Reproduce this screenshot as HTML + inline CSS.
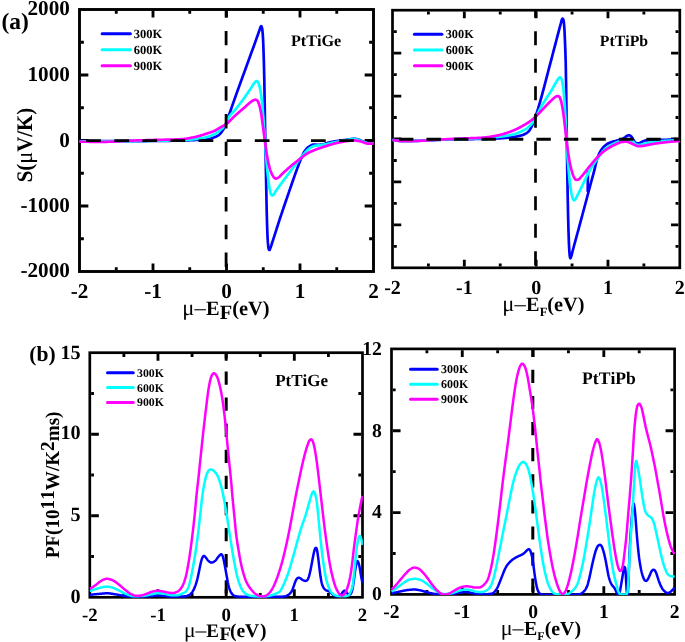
<!DOCTYPE html>
<html lang="en"><head><meta charset="utf-8"><title>Seebeck coefficient and power factor</title>
<style>html,body{margin:0;padding:0;background:#fff}svg{display:block;will-change:transform}text{font-kerning:none;text-rendering:geometricPrecision}</style></head>
<body>
<svg width="685" height="642" viewBox="0 0 685 642" font-family='"Liberation Serif","DejaVu Serif",serif' fill="#000">
<rect width="685" height="642" fill="#fff"/>
<g>
<clipPath id="ca1"><rect x="79.1" y="9.5" width="294.8" height="262.6"/></clipPath>
<path d="M153 270.05 v-6.6 M153 10.95 v6.6 M226.5 270.05 v-6.6 M226.5 10.95 v6.6 M300 270.05 v-6.6 M300 10.95 v6.6 M116.25 270.05 v-2.9 M116.25 10.95 v2.9 M189.75 270.05 v-2.9 M189.75 10.95 v2.9 M263.25 270.05 v-2.9 M263.25 10.95 v2.9 M336.75 270.05 v-2.9 M336.75 10.95 v2.9 M80.95 75 h7.4 M372.05 75 h-7.4 M80.95 140.5 h7.4 M372.05 140.5 h-7.4 M80.95 206 h7.4 M372.05 206 h-7.4 M80.95 42.25 h2.9 M372.05 42.25 h-2.9 M80.95 107.75 h2.9 M372.05 107.75 h-2.9 M80.95 173.25 h2.9 M372.05 173.25 h-2.9 M80.95 238.75 h2.9 M372.05 238.75 h-2.9" stroke="#000" stroke-width="2.85" fill="none"/>
<rect x="79.5" y="9.5" width="294" height="262" fill="none" stroke="#000" stroke-width="2.9"/>
<g clip-path="url(#ca1)" fill="none" stroke-linejoin="round" stroke-linecap="butt" stroke-width="2.7">
<path d="M79.5 141.2 L79.9 141.2 L80.3 141.2 L80.7 141.2 L81.1 141.2 L81.5 141.2 L81.9 141.2 L82.3 141.2 L82.7 141.2 L83.1 141.2 L83.5 141.2 L83.9 141.2 L84.3 141.2 L84.7 141.2 L85.1 141.2 L85.5 141.2 L85.9 141.2 L86.3 141.2 L86.7 141.2 L87.1 141.2 L87.5 141.2 L87.9 141.2 L88.3 141.2 L88.7 141.2 L89.1 141.2 L89.5 141.2 L89.9 141.2 L90.3 141.2 L90.7 141.2 L91.1 141.2 L91.5 141.2 L91.9 141.2 L92.3 141.2 L92.7 141.2 L93.1 141.2 L93.5 141.2 L93.9 141.2 L94.3 141.2 L94.7 141.2 L95.1 141.2 L95.5 141.2 L95.9 141.2 L96.3 141.2 L96.7 141.2 L97.1 141.2 L97.5 141.2 L97.9 141.2 L98.3 141.2 L98.7 141.2 L99.1 141.2 L99.5 141.2 L99.9 141.2 L100.3 141.2 L100.7 141.2 L101.1 141.2 L101.5 141.2 L101.9 141.2 L102.3 141.2 L102.7 141.2 L103.1 141.2 L103.5 141.2 L103.9 141.2 L104.3 141.2 L104.7 141.2 L105.1 141.2 L105.5 141.2 L105.9 141.2 L106.3 141.2 L106.7 141.2 L107.1 141.2 L107.5 141.2 L107.9 141.2 L108.3 141.2 L108.7 141.2 L109.1 141.2 L109.5 141.2 L109.9 141.2 L110.3 141.2 L110.7 141.2 L111.1 141.2 L111.5 141.2 L111.9 141.2 L112.3 141.2 L112.7 141.2 L113.1 141.2 L113.5 141.2 L113.9 141.2 L114.3 141.2 L114.7 141.2 L115.1 141.2 L115.5 141.2 L115.9 141.2 L116.3 141.2 L116.7 141.2 L117.1 141.2 L117.5 141.2 L117.9 141.2 L118.3 141.2 L118.7 141.2 L119.1 141.2 L119.5 141.2 L119.9 141.2 L120.3 141.2 L120.7 141.2 L121.1 141.2 L121.5 141.2 L121.9 141.2 L122.3 141.2 L122.7 141.2 L123.1 141.2 L123.5 141.2 L123.9 141.19 L124.3 141.19 L124.7 141.19 L125.1 141.19 L125.5 141.19 L125.9 141.19 L126.3 141.19 L126.7 141.18 L127.1 141.18 L127.5 141.18 L127.9 141.18 L128.3 141.18 L128.7 141.18 L129.1 141.17 L129.5 141.17 L129.9 141.17 L130.3 141.17 L130.7 141.16 L131.1 141.16 L131.5 141.16 L131.9 141.16 L132.3 141.15 L132.7 141.15 L133.1 141.15 L133.5 141.14 L133.9 141.14 L134.3 141.14 L134.7 141.14 L135.1 141.13 L135.5 141.13 L135.9 141.13 L136.3 141.12 L136.7 141.12 L137.1 141.12 L137.5 141.11 L137.9 141.11 L138.3 141.11 L138.7 141.1 L139.1 141.1 L139.5 141.1 L139.9 141.09 L140.3 141.09 L140.7 141.08 L141.1 141.08 L141.5 141.08 L141.9 141.07 L142.3 141.07 L142.7 141.07 L143.1 141.06 L143.5 141.06 L143.9 141.06 L144.3 141.05 L144.7 141.05 L145.1 141.04 L145.5 141.04 L145.9 141.04 L146.3 141.03 L146.7 141.03 L147.1 141.03 L147.5 141.02 L147.9 141.02 L148.3 141.02 L148.7 141.01 L149.1 141.01 L149.5 141 L149.9 141 L150.3 141 L150.7 140.99 L151.1 140.99 L151.5 140.99 L151.9 140.98 L152.3 140.98 L152.7 140.98 L153.1 140.97 L153.5 140.97 L153.9 140.97 L154.3 140.96 L154.7 140.96 L155.1 140.95 L155.5 140.95 L155.9 140.95 L156.3 140.94 L156.7 140.94 L157.1 140.94 L157.5 140.93 L157.9 140.93 L158.3 140.92 L158.7 140.92 L159.1 140.92 L159.5 140.91 L159.9 140.91 L160.3 140.9 L160.7 140.9 L161.1 140.9 L161.5 140.89 L161.9 140.89 L162.3 140.88 L162.7 140.88 L163.1 140.87 L163.5 140.87 L163.9 140.87 L164.3 140.86 L164.7 140.86 L165.1 140.85 L165.5 140.85 L165.9 140.84 L166.3 140.84 L166.7 140.83 L167.1 140.83 L167.5 140.82 L167.9 140.82 L168.3 140.81 L168.7 140.81 L169.1 140.8 L169.5 140.8 L169.9 140.79 L170.3 140.79 L170.7 140.78 L171.1 140.77 L171.5 140.77 L171.9 140.76 L172.3 140.76 L172.7 140.75 L173.1 140.74 L173.5 140.74 L173.9 140.73 L174.3 140.72 L174.7 140.72 L175.1 140.71 L175.5 140.7 L175.9 140.7 L176.3 140.69 L176.7 140.68 L177.1 140.68 L177.5 140.67 L177.9 140.66 L178.3 140.65 L178.7 140.65 L179.1 140.64 L179.5 140.63 L179.9 140.62 L180.3 140.61 L180.7 140.61 L181.1 140.6 L181.5 140.59 L181.9 140.58 L182.3 140.57 L182.7 140.56 L183.1 140.55 L183.5 140.53 L183.9 140.52 L184.3 140.51 L184.7 140.49 L185.1 140.48 L185.5 140.47 L185.9 140.45 L186.3 140.43 L186.7 140.42 L187.1 140.4 L187.5 140.38 L187.9 140.37 L188.3 140.35 L188.7 140.33 L189.1 140.31 L189.5 140.29 L189.9 140.27 L190.3 140.25 L190.7 140.23 L191.1 140.21 L191.5 140.19 L191.9 140.17 L192.3 140.15 L192.7 140.13 L193.1 140.11 L193.5 140.09 L193.9 140.07 L194.3 140.05 L194.7 140.03 L195.1 140.01 L195.5 139.99 L195.9 139.96 L196.3 139.94 L196.7 139.92 L197.1 139.9 L197.5 139.88 L197.9 139.86 L198.3 139.84 L198.7 139.82 L199.1 139.79 L199.5 139.77 L199.9 139.76 L200.3 139.74 L200.7 139.72 L201.1 139.7 L201.5 139.68 L201.9 139.66 L202.3 139.65 L202.7 139.63 L203.1 139.61 L203.5 139.59 L203.9 139.56 L204.3 139.54 L204.7 139.52 L205.1 139.49 L205.5 139.46 L205.9 139.43 L206.3 139.4 L206.7 139.37 L207.1 139.33 L207.5 139.29 L207.9 139.24 L208.3 139.17 L208.7 139.1 L209.1 139.01 L209.5 138.91 L209.9 138.8 L210.3 138.68 L210.7 138.56 L211.1 138.43 L211.5 138.3 L211.9 138.16 L212.3 138.02 L212.7 137.87 L213.1 137.73 L213.5 137.58 L213.9 137.44 L214.3 137.29 L214.7 137.15 L215.1 137 L215.5 136.84 L215.9 136.67 L216.3 136.5 L216.7 136.31 L217.1 136.11 L217.5 135.89 L217.9 135.66 L218.3 135.4 L218.7 135.11 L219.1 134.77 L219.5 134.41 L219.9 134.01 L220.3 133.59 L220.7 133.14 L221.1 132.68 L221.5 132.17 L221.9 131.62 L222.3 131.02 L222.7 130.38 L223.1 129.7 L223.5 129 L223.9 128.26 L224.3 127.46 L224.7 126.61 L225.1 125.73 L225.5 124.8 L225.9 123.84 L226.3 122.85 L226.7 121.78 L227.1 120.66 L227.5 119.5 L227.9 118.33 L228.3 117.16 L228.7 116 L229.1 114.85 L229.5 113.7 L229.9 112.53 L230.3 111.36 L230.7 110.19 L231.1 109.02 L231.5 107.85 L231.9 106.68 L232.3 105.52 L232.7 104.37 L233.1 103.23 L233.5 102.09 L233.9 100.96 L234.3 99.83 L234.7 98.71 L235.1 97.59 L235.5 96.47 L235.9 95.35 L236.3 94.24 L236.7 93.13 L237.1 92.02 L237.5 90.91 L237.9 89.8 L238.3 88.7 L238.7 87.59 L239.1 86.49 L239.5 85.38 L239.9 84.28 L240.3 83.17 L240.7 82.07 L241.1 80.97 L241.5 79.87 L241.9 78.77 L242.3 77.68 L242.7 76.58 L243.1 75.49 L243.5 74.4 L243.9 73.3 L244.3 72.21 L244.7 71.12 L245.1 70.02 L245.5 68.92 L245.9 67.83 L246.3 66.72 L246.7 65.62 L247.1 64.52 L247.5 63.41 L247.9 62.3 L248.3 61.2 L248.7 60.09 L249.1 58.98 L249.5 57.88 L249.9 56.78 L250.3 55.68 L250.7 54.58 L251.1 53.49 L251.5 52.39 L251.9 51.3 L252.3 50.21 L252.7 49.12 L253.1 48.03 L253.5 46.94 L253.9 45.84 L254.3 44.74 L254.7 43.63 L255.1 42.52 L255.5 41.41 L255.9 40.29 L256.3 39.16 L256.7 38.04 L257.1 36.91 L257.5 35.78 L257.9 34.65 L258.3 33.51 L258.7 32.37 L259.1 31.23 L259.5 30.09 L259.9 28.88 L260.3 27.67 L260.7 26.78 L261.1 26.14 L261.5 26.4 L261.9 27.47 L262.3 29.48 L262.7 33.45 L263.1 39.58 L263.5 50 L263.9 62.86 L264.3 79.87 L264.7 103.92 L265.1 128.33 L265.5 150.49 L265.9 170.06 L266.3 190.95 L266.7 211.03 L267.1 225.37 L267.5 236.12 L267.9 242.64 L268.3 246.92 L268.7 248.8 L269.1 249.93 L269.5 249.98 L269.9 249.25 L270.3 248.3 L270.7 247.29 L271.1 246.09 L271.5 244.79 L271.9 243.51 L272.3 242.28 L272.7 241.06 L273.1 239.82 L273.5 238.58 L273.9 237.33 L274.3 236.08 L274.7 234.82 L275.1 233.57 L275.5 232.31 L275.9 231.05 L276.3 229.79 L276.7 228.54 L277.1 227.28 L277.5 226.04 L277.9 224.79 L278.3 223.56 L278.7 222.33 L279.1 221.11 L279.5 219.9 L279.9 218.69 L280.3 217.49 L280.7 216.29 L281.1 215.09 L281.5 213.9 L281.9 212.71 L282.3 211.52 L282.7 210.34 L283.1 209.16 L283.5 207.98 L283.9 206.81 L284.3 205.63 L284.7 204.46 L285.1 203.29 L285.5 202.12 L285.9 200.96 L286.3 199.79 L286.7 198.63 L287.1 197.47 L287.5 196.31 L287.9 195.15 L288.3 193.99 L288.7 192.83 L289.1 191.67 L289.5 190.51 L289.9 189.35 L290.3 188.18 L290.7 187.02 L291.1 185.85 L291.5 184.69 L291.9 183.52 L292.3 182.36 L292.7 181.2 L293.1 180.04 L293.5 178.89 L293.9 177.74 L294.3 176.61 L294.7 175.47 L295.1 174.35 L295.5 173.24 L295.9 172.13 L296.3 171.04 L296.7 169.96 L297.1 168.88 L297.5 167.8 L297.9 166.73 L298.3 165.66 L298.7 164.6 L299.1 163.56 L299.5 162.53 L299.9 161.52 L300.3 160.53 L300.7 159.57 L301.1 158.63 L301.5 157.71 L301.9 156.78 L302.3 155.85 L302.7 154.94 L303.1 154.06 L303.5 153.23 L303.9 152.46 L304.3 151.76 L304.7 151.16 L305.1 150.59 L305.5 150.05 L305.9 149.53 L306.3 149.04 L306.7 148.58 L307.1 148.15 L307.5 147.75 L307.9 147.39 L308.3 147.08 L308.7 146.8 L309.1 146.54 L309.5 146.29 L309.9 146.04 L310.3 145.8 L310.7 145.57 L311.1 145.35 L311.5 145.16 L311.9 144.99 L312.3 144.84 L312.7 144.73 L313.1 144.65 L313.5 144.61 L313.9 144.6 L314.3 144.61 L314.7 144.63 L315.1 144.65 L315.5 144.68 L315.9 144.71 L316.3 144.74 L316.7 144.76 L317.1 144.78 L317.5 144.8 L317.9 144.8 L318.3 144.8 L318.7 144.79 L319.1 144.77 L319.5 144.76 L319.9 144.74 L320.3 144.71 L320.7 144.68 L321.1 144.66 L321.5 144.62 L321.9 144.59 L322.3 144.54 L322.7 144.47 L323.1 144.38 L323.5 144.27 L323.9 144.15 L324.3 144.02 L324.7 143.88 L325.1 143.73 L325.5 143.59 L325.9 143.44 L326.3 143.29 L326.7 143.16 L327.1 143.03 L327.5 142.91 L327.9 142.8 L328.3 142.7 L328.7 142.61 L329.1 142.51 L329.5 142.42 L329.9 142.33 L330.3 142.24 L330.7 142.15 L331.1 142.07 L331.5 141.98 L331.9 141.9 L332.3 141.82 L332.7 141.74 L333.1 141.67 L333.5 141.59 L333.9 141.52 L334.3 141.45 L334.7 141.38 L335.1 141.32 L335.5 141.25 L335.9 141.19 L336.3 141.13 L336.7 141.07 L337.1 141.02 L337.5 140.96 L337.9 140.9 L338.3 140.85 L338.7 140.8 L339.1 140.74 L339.5 140.69 L339.9 140.64 L340.3 140.59 L340.7 140.54 L341.1 140.49 L341.5 140.44 L341.9 140.39 L342.3 140.34 L342.7 140.29 L343.1 140.24 L343.5 140.19 L343.9 140.14 L344.3 140.09 L344.7 140.04 L345.1 139.99 L345.5 139.93 L345.9 139.87 L346.3 139.81 L346.7 139.75 L347.1 139.69 L347.5 139.62 L347.9 139.55 L348.3 139.49 L348.7 139.42 L349.1 139.36 L349.5 139.29 L349.9 139.23 L350.3 139.17 L350.7 139.11 L351.1 139.06 L351.5 139.01 L351.9 138.96 L352.3 138.92 L352.7 138.88 L353.1 138.85 L353.5 138.83 L353.9 138.81 L354.3 138.8 L354.7 138.8 L355.1 138.82 L355.5 138.87 L355.9 138.93 L356.3 139.02 L356.7 139.12 L357.1 139.23 L357.5 139.34 L357.9 139.47 L358.3 139.59 L358.7 139.71 L359.1 139.83 L359.5 139.96 L359.9 140.11 L360.3 140.27 L360.7 140.45 L361.1 140.63 L361.5 140.81 L361.9 141 L362.3 141.18 L362.7 141.36 L363.1 141.53 L363.5 141.69 L363.9 141.83 L364.3 141.95 L364.7 142.05 L365.1 142.14 L365.5 142.24 L365.9 142.32 L366.3 142.41 L366.7 142.49 L367.1 142.56 L367.5 142.63 L367.9 142.68 L368.3 142.73 L368.7 142.78 L369.1 142.81 L369.5 142.83 L369.9 142.86 L370.3 142.89 L370.7 142.91 L371.1 142.93 L371.5 142.95 L371.9 142.97 L372.3 142.98 L372.7 142.99 L373.1 143 L373.5 143" stroke="#0000ff"/>
<path d="M79.5 141.3 L79.9 141.3 L80.3 141.3 L80.7 141.3 L81.1 141.3 L81.5 141.3 L81.9 141.3 L82.3 141.3 L82.7 141.3 L83.1 141.3 L83.5 141.3 L83.9 141.3 L84.3 141.3 L84.7 141.3 L85.1 141.3 L85.5 141.3 L85.9 141.3 L86.3 141.3 L86.7 141.3 L87.1 141.3 L87.5 141.3 L87.9 141.29 L88.3 141.29 L88.7 141.29 L89.1 141.29 L89.5 141.29 L89.9 141.29 L90.3 141.29 L90.7 141.29 L91.1 141.29 L91.5 141.29 L91.9 141.29 L92.3 141.29 L92.7 141.29 L93.1 141.29 L93.5 141.29 L93.9 141.29 L94.3 141.28 L94.7 141.28 L95.1 141.28 L95.5 141.28 L95.9 141.28 L96.3 141.28 L96.7 141.28 L97.1 141.28 L97.5 141.28 L97.9 141.28 L98.3 141.28 L98.7 141.27 L99.1 141.27 L99.5 141.27 L99.9 141.27 L100.3 141.27 L100.7 141.27 L101.1 141.27 L101.5 141.27 L101.9 141.27 L102.3 141.26 L102.7 141.26 L103.1 141.26 L103.5 141.26 L103.9 141.26 L104.3 141.26 L104.7 141.26 L105.1 141.26 L105.5 141.26 L105.9 141.25 L106.3 141.25 L106.7 141.25 L107.1 141.25 L107.5 141.25 L107.9 141.25 L108.3 141.25 L108.7 141.24 L109.1 141.24 L109.5 141.24 L109.9 141.24 L110.3 141.24 L110.7 141.24 L111.1 141.24 L111.5 141.23 L111.9 141.23 L112.3 141.23 L112.7 141.23 L113.1 141.23 L113.5 141.23 L113.9 141.23 L114.3 141.22 L114.7 141.22 L115.1 141.22 L115.5 141.22 L115.9 141.22 L116.3 141.22 L116.7 141.21 L117.1 141.21 L117.5 141.21 L117.9 141.21 L118.3 141.21 L118.7 141.21 L119.1 141.2 L119.5 141.2 L119.9 141.2 L120.3 141.2 L120.7 141.2 L121.1 141.19 L121.5 141.19 L121.9 141.19 L122.3 141.19 L122.7 141.18 L123.1 141.18 L123.5 141.18 L123.9 141.18 L124.3 141.17 L124.7 141.17 L125.1 141.17 L125.5 141.16 L125.9 141.16 L126.3 141.15 L126.7 141.15 L127.1 141.15 L127.5 141.14 L127.9 141.14 L128.3 141.13 L128.7 141.13 L129.1 141.12 L129.5 141.12 L129.9 141.11 L130.3 141.11 L130.7 141.1 L131.1 141.1 L131.5 141.09 L131.9 141.09 L132.3 141.08 L132.7 141.08 L133.1 141.07 L133.5 141.06 L133.9 141.06 L134.3 141.05 L134.7 141.05 L135.1 141.04 L135.5 141.04 L135.9 141.03 L136.3 141.02 L136.7 141.02 L137.1 141.01 L137.5 141 L137.9 141 L138.3 140.99 L138.7 140.99 L139.1 140.98 L139.5 140.97 L139.9 140.97 L140.3 140.96 L140.7 140.95 L141.1 140.95 L141.5 140.94 L141.9 140.93 L142.3 140.93 L142.7 140.92 L143.1 140.91 L143.5 140.91 L143.9 140.9 L144.3 140.89 L144.7 140.89 L145.1 140.88 L145.5 140.87 L145.9 140.87 L146.3 140.86 L146.7 140.85 L147.1 140.85 L147.5 140.84 L147.9 140.83 L148.3 140.83 L148.7 140.82 L149.1 140.81 L149.5 140.81 L149.9 140.8 L150.3 140.8 L150.7 140.79 L151.1 140.78 L151.5 140.78 L151.9 140.77 L152.3 140.76 L152.7 140.76 L153.1 140.75 L153.5 140.75 L153.9 140.74 L154.3 140.74 L154.7 140.73 L155.1 140.72 L155.5 140.72 L155.9 140.71 L156.3 140.71 L156.7 140.7 L157.1 140.7 L157.5 140.69 L157.9 140.68 L158.3 140.68 L158.7 140.67 L159.1 140.67 L159.5 140.66 L159.9 140.66 L160.3 140.65 L160.7 140.64 L161.1 140.64 L161.5 140.63 L161.9 140.63 L162.3 140.62 L162.7 140.61 L163.1 140.61 L163.5 140.6 L163.9 140.6 L164.3 140.59 L164.7 140.58 L165.1 140.58 L165.5 140.57 L165.9 140.56 L166.3 140.56 L166.7 140.55 L167.1 140.54 L167.5 140.53 L167.9 140.53 L168.3 140.52 L168.7 140.51 L169.1 140.51 L169.5 140.5 L169.9 140.49 L170.3 140.48 L170.7 140.47 L171.1 140.47 L171.5 140.46 L171.9 140.45 L172.3 140.44 L172.7 140.43 L173.1 140.42 L173.5 140.41 L173.9 140.4 L174.3 140.39 L174.7 140.38 L175.1 140.37 L175.5 140.36 L175.9 140.35 L176.3 140.34 L176.7 140.33 L177.1 140.32 L177.5 140.31 L177.9 140.3 L178.3 140.29 L178.7 140.27 L179.1 140.26 L179.5 140.25 L179.9 140.24 L180.3 140.22 L180.7 140.21 L181.1 140.2 L181.5 140.18 L181.9 140.17 L182.3 140.15 L182.7 140.13 L183.1 140.11 L183.5 140.09 L183.9 140.07 L184.3 140.05 L184.7 140.02 L185.1 140 L185.5 139.97 L185.9 139.95 L186.3 139.92 L186.7 139.89 L187.1 139.86 L187.5 139.83 L187.9 139.8 L188.3 139.76 L188.7 139.73 L189.1 139.7 L189.5 139.66 L189.9 139.62 L190.3 139.59 L190.7 139.55 L191.1 139.51 L191.5 139.47 L191.9 139.43 L192.3 139.39 L192.7 139.35 L193.1 139.3 L193.5 139.26 L193.9 139.22 L194.3 139.17 L194.7 139.13 L195.1 139.08 L195.5 139.03 L195.9 138.99 L196.3 138.94 L196.7 138.89 L197.1 138.84 L197.5 138.79 L197.9 138.74 L198.3 138.69 L198.7 138.64 L199.1 138.59 L199.5 138.53 L199.9 138.48 L200.3 138.42 L200.7 138.35 L201.1 138.29 L201.5 138.22 L201.9 138.14 L202.3 138.07 L202.7 137.99 L203.1 137.91 L203.5 137.83 L203.9 137.74 L204.3 137.66 L204.7 137.57 L205.1 137.47 L205.5 137.38 L205.9 137.28 L206.3 137.18 L206.7 137.08 L207.1 136.97 L207.5 136.87 L207.9 136.75 L208.3 136.63 L208.7 136.51 L209.1 136.38 L209.5 136.25 L209.9 136.11 L210.3 135.97 L210.7 135.82 L211.1 135.67 L211.5 135.51 L211.9 135.35 L212.3 135.18 L212.7 135.01 L213.1 134.83 L213.5 134.64 L213.9 134.45 L214.3 134.25 L214.7 134.04 L215.1 133.81 L215.5 133.57 L215.9 133.32 L216.3 133.05 L216.7 132.78 L217.1 132.5 L217.5 132.2 L217.9 131.9 L218.3 131.59 L218.7 131.27 L219.1 130.95 L219.5 130.62 L219.9 130.28 L220.3 129.95 L220.7 129.62 L221.1 129.3 L221.5 128.98 L221.9 128.65 L222.3 128.31 L222.7 127.96 L223.1 127.58 L223.5 127.18 L223.9 126.75 L224.3 126.29 L224.7 125.78 L225.1 125.23 L225.5 124.63 L225.9 123.97 L226.3 123.07 L226.7 121.71 L227.1 120.39 L227.5 119.51 L227.9 118.76 L228.3 118.07 L228.7 117.42 L229.1 116.8 L229.5 116.23 L229.9 115.68 L230.3 115.17 L230.7 114.68 L231.1 114.21 L231.5 113.76 L231.9 113.33 L232.3 112.9 L232.7 112.48 L233.1 112.07 L233.5 111.65 L233.9 111.23 L234.3 110.8 L234.7 110.36 L235.1 109.9 L235.5 109.43 L235.9 108.93 L236.3 108.41 L236.7 107.89 L237.1 107.38 L237.5 106.86 L237.9 106.35 L238.3 105.83 L238.7 105.32 L239.1 104.8 L239.5 104.28 L239.9 103.76 L240.3 103.24 L240.7 102.72 L241.1 102.2 L241.5 101.67 L241.9 101.14 L242.3 100.61 L242.7 100.08 L243.1 99.54 L243.5 99 L243.9 98.45 L244.3 97.9 L244.7 97.34 L245.1 96.78 L245.5 96.21 L245.9 95.63 L246.3 95.04 L246.7 94.45 L247.1 93.86 L247.5 93.26 L247.9 92.65 L248.3 92.05 L248.7 91.45 L249.1 90.84 L249.5 90.24 L249.9 89.64 L250.3 89.04 L250.7 88.44 L251.1 87.85 L251.5 87.24 L251.9 86.61 L252.3 85.96 L252.7 85.32 L253.1 84.7 L253.5 84.1 L253.9 83.54 L254.3 83.04 L254.7 82.6 L255.1 82.18 L255.5 81.75 L255.9 81.37 L256.3 81.1 L256.7 81 L257.1 81.16 L257.5 81.56 L257.9 82.13 L258.3 82.77 L258.7 83.71 L259.1 84.97 L259.5 86.43 L259.9 88.02 L260.3 89.9 L260.7 92.11 L261.1 94.69 L261.5 97.94 L261.9 101.72 L262.3 105.7 L262.7 109.94 L263.1 114.55 L263.5 119.62 L263.9 125.32 L264.3 130.97 L264.7 136.38 L265.1 141.93 L265.5 147.88 L265.9 153.67 L266.3 158.8 L266.7 163.55 L267.1 167.96 L267.5 172.05 L267.9 175.92 L268.3 179.42 L268.7 182.5 L269.1 185.37 L269.5 187.95 L269.9 190.06 L270.3 191.72 L270.7 193.17 L271.1 194.25 L271.5 194.87 L271.9 195.31 L272.3 195.5 L272.7 195.35 L273.1 195.01 L273.5 194.6 L273.9 194.14 L274.3 193.58 L274.7 192.94 L275.1 192.26 L275.5 191.58 L275.9 190.95 L276.3 190.37 L276.7 189.79 L277.1 189.22 L277.5 188.66 L277.9 188.09 L278.3 187.54 L278.7 186.98 L279.1 186.43 L279.5 185.89 L279.9 185.34 L280.3 184.8 L280.7 184.26 L281.1 183.72 L281.5 183.19 L281.9 182.65 L282.3 182.12 L282.7 181.58 L283.1 181.05 L283.5 180.51 L283.9 179.98 L284.3 179.44 L284.7 178.9 L285.1 178.37 L285.5 177.83 L285.9 177.29 L286.3 176.75 L286.7 176.21 L287.1 175.67 L287.5 175.13 L287.9 174.59 L288.3 174.06 L288.7 173.52 L289.1 172.99 L289.5 172.45 L289.9 171.92 L290.3 171.38 L290.7 170.85 L291.1 170.32 L291.5 169.79 L291.9 169.26 L292.3 168.73 L292.7 168.2 L293.1 167.68 L293.5 167.15 L293.9 166.63 L294.3 166.11 L294.7 165.59 L295.1 165.07 L295.5 164.55 L295.9 164.04 L296.3 163.52 L296.7 163.01 L297.1 162.49 L297.5 161.98 L297.9 161.47 L298.3 160.96 L298.7 160.46 L299.1 159.95 L299.5 159.45 L299.9 158.94 L300.3 158.44 L300.7 157.95 L301.1 157.45 L301.5 156.96 L301.9 156.47 L302.3 155.98 L302.7 155.49 L303.1 154.99 L303.5 154.49 L303.9 154 L304.3 153.52 L304.7 153.04 L305.1 152.58 L305.5 152.13 L305.9 151.7 L306.3 151.29 L306.7 150.88 L307.1 150.48 L307.5 150.08 L307.9 149.69 L308.3 149.32 L308.7 148.97 L309.1 148.64 L309.5 148.34 L309.9 148.06 L310.3 147.81 L310.7 147.57 L311.1 147.33 L311.5 147.1 L311.9 146.88 L312.3 146.67 L312.7 146.48 L313.1 146.3 L313.5 146.14 L313.9 146.01 L314.3 145.89 L314.7 145.8 L315.1 145.73 L315.5 145.66 L315.9 145.61 L316.3 145.56 L316.7 145.51 L317.1 145.47 L317.5 145.43 L317.9 145.4 L318.3 145.36 L318.7 145.32 L319.1 145.27 L319.5 145.23 L319.9 145.17 L320.3 145.12 L320.7 145.06 L321.1 145.01 L321.5 144.95 L321.9 144.89 L322.3 144.84 L322.7 144.78 L323.1 144.71 L323.5 144.65 L323.9 144.59 L324.3 144.52 L324.7 144.45 L325.1 144.38 L325.5 144.31 L325.9 144.23 L326.3 144.16 L326.7 144.07 L327.1 143.99 L327.5 143.91 L327.9 143.82 L328.3 143.73 L328.7 143.64 L329.1 143.55 L329.5 143.45 L329.9 143.36 L330.3 143.27 L330.7 143.17 L331.1 143.08 L331.5 142.99 L331.9 142.89 L332.3 142.8 L332.7 142.71 L333.1 142.62 L333.5 142.53 L333.9 142.45 L334.3 142.36 L334.7 142.28 L335.1 142.2 L335.5 142.11 L335.9 142.03 L336.3 141.95 L336.7 141.87 L337.1 141.78 L337.5 141.7 L337.9 141.62 L338.3 141.53 L338.7 141.45 L339.1 141.37 L339.5 141.29 L339.9 141.21 L340.3 141.13 L340.7 141.05 L341.1 140.98 L341.5 140.9 L341.9 140.83 L342.3 140.75 L342.7 140.68 L343.1 140.61 L343.5 140.54 L343.9 140.47 L344.3 140.41 L344.7 140.35 L345.1 140.28 L345.5 140.22 L345.9 140.16 L346.3 140.09 L346.7 140.03 L347.1 139.96 L347.5 139.89 L347.9 139.82 L348.3 139.76 L348.7 139.69 L349.1 139.63 L349.5 139.56 L349.9 139.5 L350.3 139.45 L350.7 139.39 L351.1 139.34 L351.5 139.29 L351.9 139.25 L352.3 139.21 L352.7 139.18 L353.1 139.15 L353.5 139.13 L353.9 139.11 L354.3 139.1 L354.7 139.1 L355.1 139.12 L355.5 139.18 L355.9 139.25 L356.3 139.34 L356.7 139.46 L357.1 139.58 L357.5 139.71 L357.9 139.84 L358.3 139.98 L358.7 140.11 L359.1 140.23 L359.5 140.36 L359.9 140.51 L360.3 140.67 L360.7 140.83 L361.1 141.01 L361.5 141.18 L361.9 141.36 L362.3 141.53 L362.7 141.7 L363.1 141.85 L363.5 142 L363.9 142.13 L364.3 142.25 L364.7 142.35 L365.1 142.44 L365.5 142.54 L365.9 142.63 L366.3 142.72 L366.7 142.8 L367.1 142.88 L367.5 142.95 L367.9 143 L368.3 143.05 L368.7 143.08 L369.1 143.1 L369.5 143.12 L369.9 143.13 L370.3 143.15 L370.7 143.16 L371.1 143.17 L371.5 143.18 L371.9 143.19 L372.3 143.19 L372.7 143.2 L373.1 143.2 L373.5 143.2" stroke="#00ffff"/>
<path d="M79.5 141.7 L79.9 141.7 L80.3 141.71 L80.7 141.71 L81.1 141.72 L81.5 141.72 L81.9 141.73 L82.3 141.73 L82.7 141.73 L83.1 141.74 L83.5 141.74 L83.9 141.74 L84.3 141.75 L84.7 141.75 L85.1 141.75 L85.5 141.76 L85.9 141.76 L86.3 141.76 L86.7 141.76 L87.1 141.77 L87.5 141.77 L87.9 141.77 L88.3 141.77 L88.7 141.77 L89.1 141.78 L89.5 141.78 L89.9 141.78 L90.3 141.78 L90.7 141.78 L91.1 141.78 L91.5 141.79 L91.9 141.79 L92.3 141.79 L92.7 141.79 L93.1 141.79 L93.5 141.79 L93.9 141.79 L94.3 141.79 L94.7 141.79 L95.1 141.79 L95.5 141.79 L95.9 141.8 L96.3 141.8 L96.7 141.8 L97.1 141.8 L97.5 141.8 L97.9 141.8 L98.3 141.8 L98.7 141.8 L99.1 141.8 L99.5 141.8 L99.9 141.8 L100.3 141.8 L100.7 141.8 L101.1 141.8 L101.5 141.8 L101.9 141.8 L102.3 141.8 L102.7 141.8 L103.1 141.8 L103.5 141.8 L103.9 141.8 L104.3 141.8 L104.7 141.8 L105.1 141.8 L105.5 141.8 L105.9 141.8 L106.3 141.79 L106.7 141.79 L107.1 141.78 L107.5 141.78 L107.9 141.77 L108.3 141.76 L108.7 141.75 L109.1 141.74 L109.5 141.73 L109.9 141.72 L110.3 141.71 L110.7 141.69 L111.1 141.68 L111.5 141.67 L111.9 141.65 L112.3 141.63 L112.7 141.62 L113.1 141.6 L113.5 141.58 L113.9 141.56 L114.3 141.54 L114.7 141.52 L115.1 141.5 L115.5 141.48 L115.9 141.46 L116.3 141.44 L116.7 141.42 L117.1 141.4 L117.5 141.37 L117.9 141.35 L118.3 141.33 L118.7 141.3 L119.1 141.28 L119.5 141.26 L119.9 141.23 L120.3 141.21 L120.7 141.19 L121.1 141.16 L121.5 141.14 L121.9 141.11 L122.3 141.09 L122.7 141.07 L123.1 141.04 L123.5 141.02 L123.9 141 L124.3 140.97 L124.7 140.95 L125.1 140.93 L125.5 140.9 L125.9 140.88 L126.3 140.86 L126.7 140.84 L127.1 140.82 L127.5 140.8 L127.9 140.78 L128.3 140.76 L128.7 140.74 L129.1 140.72 L129.5 140.7 L129.9 140.68 L130.3 140.66 L130.7 140.65 L131.1 140.63 L131.5 140.62 L131.9 140.6 L132.3 140.59 L132.7 140.58 L133.1 140.56 L133.5 140.55 L133.9 140.54 L134.3 140.52 L134.7 140.51 L135.1 140.5 L135.5 140.49 L135.9 140.47 L136.3 140.46 L136.7 140.45 L137.1 140.44 L137.5 140.43 L137.9 140.41 L138.3 140.4 L138.7 140.39 L139.1 140.38 L139.5 140.37 L139.9 140.36 L140.3 140.34 L140.7 140.33 L141.1 140.32 L141.5 140.31 L141.9 140.3 L142.3 140.29 L142.7 140.28 L143.1 140.27 L143.5 140.26 L143.9 140.25 L144.3 140.24 L144.7 140.23 L145.1 140.22 L145.5 140.2 L145.9 140.19 L146.3 140.18 L146.7 140.17 L147.1 140.16 L147.5 140.15 L147.9 140.14 L148.3 140.13 L148.7 140.12 L149.1 140.11 L149.5 140.1 L149.9 140.09 L150.3 140.08 L150.7 140.07 L151.1 140.06 L151.5 140.05 L151.9 140.04 L152.3 140.03 L152.7 140.02 L153.1 140.01 L153.5 140 L153.9 139.99 L154.3 139.97 L154.7 139.96 L155.1 139.95 L155.5 139.94 L155.9 139.93 L156.3 139.92 L156.7 139.91 L157.1 139.9 L157.5 139.89 L157.9 139.88 L158.3 139.86 L158.7 139.85 L159.1 139.84 L159.5 139.84 L159.9 139.83 L160.3 139.82 L160.7 139.81 L161.1 139.8 L161.5 139.79 L161.9 139.78 L162.3 139.77 L162.7 139.76 L163.1 139.76 L163.5 139.75 L163.9 139.74 L164.3 139.73 L164.7 139.72 L165.1 139.72 L165.5 139.71 L165.9 139.7 L166.3 139.69 L166.7 139.68 L167.1 139.67 L167.5 139.67 L167.9 139.66 L168.3 139.65 L168.7 139.64 L169.1 139.63 L169.5 139.62 L169.9 139.61 L170.3 139.6 L170.7 139.6 L171.1 139.59 L171.5 139.58 L171.9 139.57 L172.3 139.56 L172.7 139.54 L173.1 139.53 L173.5 139.52 L173.9 139.51 L174.3 139.5 L174.7 139.49 L175.1 139.47 L175.5 139.46 L175.9 139.45 L176.3 139.43 L176.7 139.42 L177.1 139.41 L177.5 139.39 L177.9 139.37 L178.3 139.36 L178.7 139.34 L179.1 139.32 L179.5 139.31 L179.9 139.29 L180.3 139.27 L180.7 139.25 L181.1 139.23 L181.5 139.21 L181.9 139.19 L182.3 139.16 L182.7 139.13 L183.1 139.09 L183.5 139.05 L183.9 139.01 L184.3 138.96 L184.7 138.91 L185.1 138.85 L185.5 138.79 L185.9 138.73 L186.3 138.67 L186.7 138.6 L187.1 138.53 L187.5 138.46 L187.9 138.38 L188.3 138.31 L188.7 138.23 L189.1 138.16 L189.5 138.08 L189.9 138 L190.3 137.93 L190.7 137.85 L191.1 137.77 L191.5 137.69 L191.9 137.62 L192.3 137.54 L192.7 137.47 L193.1 137.39 L193.5 137.3 L193.9 137.22 L194.3 137.13 L194.7 137.05 L195.1 136.96 L195.5 136.87 L195.9 136.77 L196.3 136.68 L196.7 136.58 L197.1 136.48 L197.5 136.39 L197.9 136.28 L198.3 136.18 L198.7 136.08 L199.1 135.97 L199.5 135.87 L199.9 135.76 L200.3 135.64 L200.7 135.53 L201.1 135.41 L201.5 135.29 L201.9 135.17 L202.3 135.04 L202.7 134.92 L203.1 134.79 L203.5 134.66 L203.9 134.53 L204.3 134.4 L204.7 134.27 L205.1 134.13 L205.5 134 L205.9 133.87 L206.3 133.73 L206.7 133.6 L207.1 133.47 L207.5 133.33 L207.9 133.2 L208.3 133.07 L208.7 132.94 L209.1 132.81 L209.5 132.68 L209.9 132.55 L210.3 132.41 L210.7 132.27 L211.1 132.14 L211.5 131.99 L211.9 131.85 L212.3 131.7 L212.7 131.54 L213.1 131.38 L213.5 131.22 L213.9 131.04 L214.3 130.86 L214.7 130.67 L215.1 130.47 L215.5 130.25 L215.9 130.03 L216.3 129.8 L216.7 129.57 L217.1 129.33 L217.5 129.09 L217.9 128.85 L218.3 128.6 L218.7 128.36 L219.1 128.12 L219.5 127.89 L219.9 127.66 L220.3 127.43 L220.7 127.22 L221.1 127.01 L221.5 126.8 L221.9 126.59 L222.3 126.39 L222.7 126.18 L223.1 125.97 L223.5 125.76 L223.9 125.55 L224.3 125.32 L224.7 125.09 L225.1 124.85 L225.5 124.6 L225.9 124.34 L226.3 124.06 L226.7 123.76 L227.1 123.45 L227.5 123.11 L227.9 122.77 L228.3 122.4 L228.7 122.03 L229.1 121.64 L229.5 121.25 L229.9 120.85 L230.3 120.44 L230.7 120.03 L231.1 119.61 L231.5 119.2 L231.9 118.78 L232.3 118.36 L232.7 117.95 L233.1 117.54 L233.5 117.14 L233.9 116.75 L234.3 116.36 L234.7 115.99 L235.1 115.63 L235.5 115.27 L235.9 114.91 L236.3 114.55 L236.7 114.2 L237.1 113.85 L237.5 113.5 L237.9 113.15 L238.3 112.8 L238.7 112.45 L239.1 112.11 L239.5 111.77 L239.9 111.42 L240.3 111.08 L240.7 110.74 L241.1 110.4 L241.5 110.05 L241.9 109.71 L242.3 109.37 L242.7 109.02 L243.1 108.68 L243.5 108.33 L243.9 107.99 L244.3 107.64 L244.7 107.29 L245.1 106.93 L245.5 106.58 L245.9 106.21 L246.3 105.84 L246.7 105.48 L247.1 105.11 L247.5 104.74 L247.9 104.38 L248.3 104.02 L248.7 103.67 L249.1 103.33 L249.5 103 L249.9 102.68 L250.3 102.36 L250.7 102.05 L251.1 101.73 L251.5 101.42 L251.9 101.13 L252.3 100.87 L252.7 100.64 L253.1 100.46 L253.5 100.28 L253.9 100.1 L254.3 99.95 L254.7 99.82 L255.1 99.73 L255.5 99.7 L255.9 99.76 L256.3 99.91 L256.7 100.15 L257.1 100.46 L257.5 100.8 L257.9 101.33 L258.3 102.16 L258.7 103.23 L259.1 104.46 L259.5 105.81 L259.9 107.25 L260.3 109.01 L260.7 111.07 L261.1 113.32 L261.5 115.75 L261.9 118.56 L262.3 121.58 L262.7 124.6 L263.1 127.57 L263.5 130.58 L263.9 133.61 L264.3 136.63 L264.7 139.6 L265.1 142.55 L265.5 145.48 L265.9 148.31 L266.3 151.05 L266.7 153.74 L267.1 156.25 L267.5 158.49 L267.9 160.57 L268.3 162.51 L268.7 164.28 L269.1 165.89 L269.5 167.38 L269.9 168.79 L270.3 170.09 L270.7 171.27 L271.1 172.3 L271.5 173.23 L271.9 174.11 L272.3 174.92 L272.7 175.64 L273.1 176.28 L273.5 176.8 L273.9 177.28 L274.3 177.74 L274.7 178.15 L275.1 178.45 L275.5 178.59 L275.9 178.58 L276.3 178.5 L276.7 178.38 L277.1 178.22 L277.5 178.04 L277.9 177.85 L278.3 177.64 L278.7 177.37 L279.1 177.05 L279.5 176.69 L279.9 176.3 L280.3 175.88 L280.7 175.45 L281.1 175.02 L281.5 174.59 L281.9 174.18 L282.3 173.8 L282.7 173.43 L283.1 173.07 L283.5 172.7 L283.9 172.34 L284.3 171.97 L284.7 171.61 L285.1 171.24 L285.5 170.88 L285.9 170.51 L286.3 170.15 L286.7 169.79 L287.1 169.43 L287.5 169.07 L287.9 168.71 L288.3 168.35 L288.7 168 L289.1 167.64 L289.5 167.29 L289.9 166.94 L290.3 166.6 L290.7 166.25 L291.1 165.91 L291.5 165.57 L291.9 165.23 L292.3 164.9 L292.7 164.57 L293.1 164.24 L293.5 163.92 L293.9 163.6 L294.3 163.28 L294.7 162.96 L295.1 162.65 L295.5 162.34 L295.9 162.03 L296.3 161.72 L296.7 161.41 L297.1 161.11 L297.5 160.8 L297.9 160.5 L298.3 160.19 L298.7 159.89 L299.1 159.59 L299.5 159.28 L299.9 158.98 L300.3 158.67 L300.7 158.36 L301.1 158.06 L301.5 157.75 L301.9 157.43 L302.3 157.12 L302.7 156.8 L303.1 156.46 L303.5 156.13 L303.9 155.79 L304.3 155.46 L304.7 155.13 L305.1 154.82 L305.5 154.53 L305.9 154.26 L306.3 154.02 L306.7 153.78 L307.1 153.55 L307.5 153.32 L307.9 153.1 L308.3 152.89 L308.7 152.68 L309.1 152.47 L309.5 152.28 L309.9 152.08 L310.3 151.89 L310.7 151.71 L311.1 151.52 L311.5 151.35 L311.9 151.17 L312.3 151 L312.7 150.83 L313.1 150.66 L313.5 150.49 L313.9 150.33 L314.3 150.16 L314.7 150 L315.1 149.84 L315.5 149.68 L315.9 149.52 L316.3 149.37 L316.7 149.21 L317.1 149.06 L317.5 148.91 L317.9 148.76 L318.3 148.62 L318.7 148.47 L319.1 148.33 L319.5 148.19 L319.9 148.05 L320.3 147.91 L320.7 147.77 L321.1 147.63 L321.5 147.5 L321.9 147.37 L322.3 147.23 L322.7 147.1 L323.1 146.97 L323.5 146.84 L323.9 146.72 L324.3 146.59 L324.7 146.46 L325.1 146.34 L325.5 146.22 L325.9 146.09 L326.3 145.97 L326.7 145.85 L327.1 145.73 L327.5 145.61 L327.9 145.49 L328.3 145.37 L328.7 145.25 L329.1 145.13 L329.5 145.01 L329.9 144.89 L330.3 144.77 L330.7 144.65 L331.1 144.54 L331.5 144.42 L331.9 144.3 L332.3 144.19 L332.7 144.07 L333.1 143.96 L333.5 143.85 L333.9 143.74 L334.3 143.63 L334.7 143.53 L335.1 143.42 L335.5 143.32 L335.9 143.22 L336.3 143.12 L336.7 143.02 L337.1 142.93 L337.5 142.84 L337.9 142.75 L338.3 142.66 L338.7 142.58 L339.1 142.5 L339.5 142.42 L339.9 142.34 L340.3 142.27 L340.7 142.19 L341.1 142.11 L341.5 142.03 L341.9 141.95 L342.3 141.87 L342.7 141.79 L343.1 141.71 L343.5 141.63 L343.9 141.55 L344.3 141.47 L344.7 141.39 L345.1 141.32 L345.5 141.24 L345.9 141.17 L346.3 141.1 L346.7 141.03 L347.1 140.97 L347.5 140.9 L347.9 140.84 L348.3 140.79 L348.7 140.73 L349.1 140.68 L349.5 140.63 L349.9 140.59 L350.3 140.55 L350.7 140.51 L351.1 140.48 L351.5 140.46 L351.9 140.43 L352.3 140.42 L352.7 140.41 L353.1 140.4 L353.5 140.4 L353.9 140.41 L354.3 140.43 L354.7 140.46 L355.1 140.49 L355.5 140.53 L355.9 140.58 L356.3 140.63 L356.7 140.69 L357.1 140.76 L357.5 140.82 L357.9 140.89 L358.3 140.96 L358.7 141.03 L359.1 141.11 L359.5 141.18 L359.9 141.26 L360.3 141.35 L360.7 141.45 L361.1 141.57 L361.5 141.69 L361.9 141.82 L362.3 141.95 L362.7 142.09 L363.1 142.23 L363.5 142.37 L363.9 142.5 L364.3 142.64 L364.7 142.77 L365.1 142.92 L365.5 143.08 L365.9 143.23 L366.3 143.37 L366.7 143.46 L367.1 143.51 L367.5 143.53 L367.9 143.55 L368.3 143.57 L368.7 143.59 L369.1 143.61 L369.5 143.63 L369.9 143.64 L370.3 143.65 L370.7 143.66 L371.1 143.67 L371.5 143.68 L371.9 143.69 L372.3 143.69 L372.7 143.7 L373.1 143.7 L373.5 143.7" stroke="#ff00ff"/>
</g>
<path d="M86.2 140.6 H100.9 M114.3 140.6 H129 M142.4 140.6 H157.1 M170.5 140.6 H185.2 M198.6 140.6 H213.3 M226.7 140.6 H241.4 M254.8 140.6 H269.5 M282.9 140.6 H297.6 M311 140.6 H325.7 M339.1 140.6 H353.8 M367.2 140.6 H373.5" stroke="#000" stroke-width="2.7" fill="none"/>
<path d="M226.1 9.5 V17.6 M226.1 30.9 V45.3 M226.1 58.6 V73 M226.1 86.3 V100.7 M226.1 114 V128.4 M226.1 141.7 V156.1 M226.1 169.4 V183.8 M226.1 197.1 V211.5 M226.1 224.8 V239.2 M226.1 252.5 V266.9" stroke="#000" stroke-width="2.8" fill="none"/>
<path d="M102.1 33.7 H130.4" stroke="#0000ff" stroke-width="3" stroke-linecap="round" fill="none"/>
<text x="133.8" y="37.6" font-size="12.5" font-weight="bold">300K</text>
<path d="M102.1 49.7 H130.4" stroke="#00ffff" stroke-width="3" stroke-linecap="round" fill="none"/>
<text x="133.8" y="53.6" font-size="12.5" font-weight="bold">600K</text>
<path d="M102.1 65.7 H130.4" stroke="#ff00ff" stroke-width="3" stroke-linecap="round" fill="none"/>
<text x="133.8" y="69.6" font-size="12.5" font-weight="bold">900K</text>
<text x="290.9" y="45.6" font-size="16.2" font-weight="bold">PtTiGe</text>
<text x="79.5" y="297.9" font-size="21.2" font-weight="bold" text-anchor="middle">-2</text>
<text x="153" y="297.9" font-size="21.2" font-weight="bold" text-anchor="middle">-1</text>
<text x="226.5" y="297.9" font-size="21.2" font-weight="bold" text-anchor="middle">0</text>
<text x="300" y="297.9" font-size="21.2" font-weight="bold" text-anchor="middle">1</text>
<text x="373.5" y="297.9" font-size="21.2" font-weight="bold" text-anchor="middle">2</text>
<text x="69.9" y="15.2" font-size="21.2" font-weight="bold" text-anchor="end">2000</text>
<text x="69.9" y="80.8" font-size="21.2" font-weight="bold" text-anchor="end">1000</text>
<text x="69.9" y="146.8" font-size="21.2" font-weight="bold" text-anchor="end">0</text>
<text x="69.9" y="212.3" font-size="21.2" font-weight="bold" text-anchor="end">-1000</text>
<text x="69.9" y="277.4" font-size="21.2" font-weight="bold" text-anchor="end">-2000</text>
<text x="205.7" y="314.7" font-size="22.5" text-anchor="end">&#956;&#8211;</text>
<text y="314.7" font-size="20.4" font-weight="bold"><tspan x="206.1">E</tspan><tspan x="219.71" dy="4">F</tspan><tspan x="232.17" dy="-4" font-size="20.4">(eV)</tspan></text>
</g>
<g>
<clipPath id="ca2"><rect x="392.1" y="10.2" width="288.1" height="258.2"/></clipPath>
<path d="M464.32 266.45 v-6.6 M464.32 11.55 v6.6 M536.15 266.45 v-6.6 M536.15 11.55 v6.6 M607.97 266.45 v-6.6 M607.97 11.55 v6.6 M428.41 266.45 v-2.9 M428.41 11.55 v2.9 M500.24 266.45 v-2.9 M500.24 11.55 v2.9 M572.06 266.45 v-2.9 M572.06 11.55 v2.9 M643.89 266.45 v-2.9 M643.89 11.55 v2.9 M393.85 53.13 h7.4 M678.45 53.13 h-7.4 M393.85 96.07 h7.4 M678.45 96.07 h-7.4 M393.85 139 h7.4 M678.45 139 h-7.4 M393.85 181.93 h7.4 M678.45 181.93 h-7.4 M393.85 224.87 h7.4 M678.45 224.87 h-7.4 M393.85 31.67 h2.9 M678.45 31.67 h-2.9 M393.85 74.6 h2.9 M678.45 74.6 h-2.9 M393.85 117.53 h2.9 M678.45 117.53 h-2.9 M393.85 160.47 h2.9 M678.45 160.47 h-2.9 M393.85 203.4 h2.9 M678.45 203.4 h-2.9 M393.85 246.33 h2.9 M678.45 246.33 h-2.9" stroke="#000" stroke-width="2.85" fill="none"/>
<rect x="392.5" y="10.2" width="287.3" height="257.6" fill="none" stroke="#000" stroke-width="2.7"/>
<g clip-path="url(#ca2)" fill="none" stroke-linejoin="round" stroke-linecap="butt" stroke-width="2.7">
<path d="M392.5 139.9 L392.9 139.96 L393.3 140.02 L393.7 140.09 L394.1 140.15 L394.5 140.21 L394.9 140.27 L395.3 140.33 L395.7 140.39 L396.1 140.44 L396.5 140.5 L396.9 140.55 L397.3 140.6 L397.7 140.65 L398.1 140.7 L398.5 140.74 L398.9 140.78 L399.3 140.82 L399.7 140.86 L400.1 140.89 L400.5 140.92 L400.9 140.94 L401.3 140.96 L401.7 140.98 L402.1 140.99 L402.5 141 L402.9 141 L403.3 141 L403.7 141 L404.1 141 L404.5 141 L404.9 140.99 L405.3 140.99 L405.7 140.99 L406.1 140.99 L406.5 140.98 L406.9 140.98 L407.3 140.98 L407.7 140.97 L408.1 140.97 L408.5 140.96 L408.9 140.96 L409.3 140.95 L409.7 140.95 L410.1 140.94 L410.5 140.94 L410.9 140.93 L411.3 140.92 L411.7 140.92 L412.1 140.91 L412.5 140.9 L412.9 140.9 L413.3 140.89 L413.7 140.88 L414.1 140.87 L414.5 140.87 L414.9 140.86 L415.3 140.85 L415.7 140.84 L416.1 140.83 L416.5 140.83 L416.9 140.82 L417.3 140.81 L417.7 140.8 L418.1 140.79 L418.5 140.78 L418.9 140.77 L419.3 140.76 L419.7 140.75 L420.1 140.74 L420.5 140.72 L420.9 140.71 L421.3 140.7 L421.7 140.68 L422.1 140.66 L422.5 140.65 L422.9 140.63 L423.3 140.61 L423.7 140.59 L424.1 140.57 L424.5 140.55 L424.9 140.53 L425.3 140.51 L425.7 140.49 L426.1 140.47 L426.5 140.45 L426.9 140.43 L427.3 140.41 L427.7 140.39 L428.1 140.37 L428.5 140.34 L428.9 140.32 L429.3 140.3 L429.7 140.28 L430.1 140.26 L430.5 140.23 L430.9 140.21 L431.3 140.19 L431.7 140.17 L432.1 140.15 L432.5 140.13 L432.9 140.11 L433.3 140.09 L433.7 140.07 L434.1 140.05 L434.5 140.03 L434.9 140.01 L435.3 139.99 L435.7 139.97 L436.1 139.96 L436.5 139.94 L436.9 139.93 L437.3 139.91 L437.7 139.9 L438.1 139.88 L438.5 139.87 L438.9 139.85 L439.3 139.84 L439.7 139.83 L440.1 139.81 L440.5 139.8 L440.9 139.79 L441.3 139.77 L441.7 139.76 L442.1 139.75 L442.5 139.73 L442.9 139.72 L443.3 139.71 L443.7 139.69 L444.1 139.68 L444.5 139.67 L444.9 139.66 L445.3 139.64 L445.7 139.63 L446.1 139.62 L446.5 139.61 L446.9 139.59 L447.3 139.58 L447.7 139.57 L448.1 139.56 L448.5 139.55 L448.9 139.53 L449.3 139.52 L449.7 139.51 L450.1 139.5 L450.5 139.49 L450.9 139.48 L451.3 139.46 L451.7 139.45 L452.1 139.44 L452.5 139.43 L452.9 139.42 L453.3 139.41 L453.7 139.4 L454.1 139.39 L454.5 139.38 L454.9 139.37 L455.3 139.36 L455.7 139.35 L456.1 139.34 L456.5 139.33 L456.9 139.32 L457.3 139.31 L457.7 139.3 L458.1 139.29 L458.5 139.28 L458.9 139.27 L459.3 139.26 L459.7 139.26 L460.1 139.25 L460.5 139.24 L460.9 139.23 L461.3 139.22 L461.7 139.21 L462.1 139.21 L462.5 139.2 L462.9 139.19 L463.3 139.18 L463.7 139.18 L464.1 139.17 L464.5 139.16 L464.9 139.16 L465.3 139.15 L465.7 139.14 L466.1 139.14 L466.5 139.13 L466.9 139.12 L467.3 139.12 L467.7 139.11 L468.1 139.11 L468.5 139.1 L468.9 139.1 L469.3 139.09 L469.7 139.08 L470.1 139.08 L470.5 139.07 L470.9 139.07 L471.3 139.06 L471.7 139.06 L472.1 139.05 L472.5 139.05 L472.9 139.04 L473.3 139.04 L473.7 139.03 L474.1 139.03 L474.5 139.02 L474.9 139.02 L475.3 139.01 L475.7 139.01 L476.1 139 L476.5 139 L476.9 138.99 L477.3 138.98 L477.7 138.98 L478.1 138.97 L478.5 138.97 L478.9 138.96 L479.3 138.95 L479.7 138.95 L480.1 138.94 L480.5 138.93 L480.9 138.93 L481.3 138.92 L481.7 138.91 L482.1 138.9 L482.5 138.9 L482.9 138.89 L483.3 138.88 L483.7 138.87 L484.1 138.86 L484.5 138.86 L484.9 138.85 L485.3 138.84 L485.7 138.83 L486.1 138.82 L486.5 138.82 L486.9 138.81 L487.3 138.8 L487.7 138.79 L488.1 138.78 L488.5 138.77 L488.9 138.76 L489.3 138.75 L489.7 138.74 L490.1 138.73 L490.5 138.72 L490.9 138.71 L491.3 138.7 L491.7 138.69 L492.1 138.68 L492.5 138.66 L492.9 138.65 L493.3 138.64 L493.7 138.63 L494.1 138.61 L494.5 138.6 L494.9 138.59 L495.3 138.57 L495.7 138.56 L496.1 138.54 L496.5 138.53 L496.9 138.51 L497.3 138.5 L497.7 138.48 L498.1 138.46 L498.5 138.44 L498.9 138.42 L499.3 138.4 L499.7 138.38 L500.1 138.35 L500.5 138.33 L500.9 138.3 L501.3 138.27 L501.7 138.24 L502.1 138.22 L502.5 138.19 L502.9 138.15 L503.3 138.12 L503.7 138.09 L504.1 138.05 L504.5 138.02 L504.9 137.98 L505.3 137.95 L505.7 137.91 L506.1 137.87 L506.5 137.83 L506.9 137.79 L507.3 137.75 L507.7 137.71 L508.1 137.67 L508.5 137.62 L508.9 137.58 L509.3 137.53 L509.7 137.49 L510.1 137.44 L510.5 137.4 L510.9 137.35 L511.3 137.3 L511.7 137.25 L512.1 137.2 L512.5 137.15 L512.9 137.1 L513.3 137.04 L513.7 136.99 L514.1 136.93 L514.5 136.87 L514.9 136.8 L515.3 136.74 L515.7 136.67 L516.1 136.6 L516.5 136.53 L516.9 136.45 L517.3 136.37 L517.7 136.29 L518.1 136.21 L518.5 136.12 L518.9 136.03 L519.3 135.94 L519.7 135.84 L520.1 135.74 L520.5 135.63 L520.9 135.52 L521.3 135.41 L521.7 135.29 L522.1 135.17 L522.5 135.04 L522.9 134.9 L523.3 134.75 L523.7 134.58 L524.1 134.41 L524.5 134.22 L524.9 134.02 L525.3 133.81 L525.7 133.58 L526.1 133.34 L526.5 133.08 L526.9 132.8 L527.3 132.51 L527.7 132.21 L528.1 131.88 L528.5 131.52 L528.9 131.08 L529.3 130.57 L529.7 130 L530.1 129.37 L530.5 128.69 L530.9 127.98 L531.3 127.24 L531.7 126.48 L532.1 125.7 L532.5 124.85 L532.9 123.92 L533.3 122.93 L533.7 121.89 L534.1 120.81 L534.5 119.71 L534.9 118.6 L535.3 117.45 L535.7 116.23 L536.1 114.97 L536.5 113.68 L536.9 112.4 L537.3 111.12 L537.7 109.83 L538.1 108.54 L538.5 107.23 L538.9 105.9 L539.3 104.56 L539.7 103.19 L540.1 101.8 L540.5 100.4 L540.9 98.97 L541.3 97.53 L541.7 96.08 L542.1 94.61 L542.5 93.14 L542.9 91.65 L543.3 90.15 L543.7 88.64 L544.1 87.12 L544.5 85.6 L544.9 84.07 L545.3 82.53 L545.7 81 L546.1 79.45 L546.5 77.91 L546.9 76.37 L547.3 74.83 L547.7 73.28 L548.1 71.75 L548.5 70.21 L548.9 68.68 L549.3 67.15 L549.7 65.63 L550.1 64.12 L550.5 62.61 L550.9 61.1 L551.3 59.58 L551.7 58.06 L552.1 56.54 L552.5 55.01 L552.9 53.49 L553.3 51.96 L553.7 50.43 L554.1 48.91 L554.5 47.38 L554.9 45.85 L555.3 44.32 L555.7 42.8 L556.1 41.28 L556.5 39.75 L556.9 38.23 L557.3 36.72 L557.7 35.2 L558.1 33.69 L558.5 32.18 L558.9 30.68 L559.3 29.18 L559.7 27.69 L560.1 26.2 L560.5 24.71 L560.9 23.24 L561.3 21.71 L561.7 20.14 L562.1 19.19 L562.5 18.63 L562.9 18.8 L563.3 19.56 L563.7 21.27 L564.1 24.91 L564.5 30.71 L564.9 39.63 L565.3 49.35 L565.7 62 L566.1 83.48 L566.5 113.87 L566.9 146.4 L567.3 173.96 L567.7 196.77 L568.1 215.97 L568.5 231 L568.9 242.81 L569.3 250.64 L569.7 255.5 L570.1 257.66 L570.5 258.25 L570.9 257.4 L571.3 256.21 L571.7 254.77 L572.1 253.12 L572.5 251.5 L572.9 249.99 L573.3 248.49 L573.7 246.99 L574.1 245.5 L574.5 244.02 L574.9 242.54 L575.3 241.07 L575.7 239.6 L576.1 238.13 L576.5 236.67 L576.9 235.2 L577.3 233.74 L577.7 232.27 L578.1 230.81 L578.5 229.34 L578.9 227.87 L579.3 226.39 L579.7 224.91 L580.1 223.43 L580.5 221.94 L580.9 220.45 L581.3 218.96 L581.7 217.47 L582.1 215.98 L582.5 214.49 L582.9 213 L583.3 211.5 L583.7 210.01 L584.1 208.51 L584.5 207.02 L584.9 205.52 L585.3 204.02 L585.7 202.52 L586.1 201.02 L586.5 199.53 L586.9 198.02 L587.3 196.52 L587.7 195.01 L588.1 193.5 L588.5 191.99 L588.9 190.49 L589.3 188.98 L589.7 187.47 L590.1 185.97 L590.5 184.47 L590.9 182.97 L591.3 181.49 L591.7 180.02 L592.1 178.57 L592.5 177.12 L592.9 175.66 L593.3 174.19 L593.7 172.7 L594.1 171.17 L594.5 169.6 L594.9 167.9 L595.3 166.12 L595.7 164.34 L596.1 162.65 L596.5 161.14 L596.9 159.83 L597.3 158.58 L597.7 157.39 L598.1 156.27 L598.5 155.23 L598.9 154.26 L599.3 153.39 L599.7 152.61 L600.1 151.89 L600.5 151.2 L600.9 150.54 L601.3 149.92 L601.7 149.33 L602.1 148.77 L602.5 148.25 L602.9 147.76 L603.3 147.31 L603.7 146.89 L604.1 146.51 L604.5 146.14 L604.9 145.79 L605.3 145.45 L605.7 145.13 L606.1 144.82 L606.5 144.52 L606.9 144.24 L607.3 143.98 L607.7 143.73 L608.1 143.5 L608.5 143.29 L608.9 143.08 L609.3 142.9 L609.7 142.73 L610.1 142.57 L610.5 142.41 L610.9 142.27 L611.3 142.13 L611.7 142 L612.1 141.87 L612.5 141.75 L612.9 141.63 L613.3 141.52 L613.7 141.4 L614.1 141.3 L614.5 141.19 L614.9 141.08 L615.3 140.97 L615.7 140.87 L616.1 140.76 L616.5 140.65 L616.9 140.54 L617.3 140.45 L617.7 140.35 L618.1 140.27 L618.5 140.18 L618.9 140.09 L619.3 139.99 L619.7 139.89 L620.1 139.78 L620.5 139.67 L620.9 139.53 L621.3 139.39 L621.7 139.21 L622.1 139.02 L622.5 138.8 L622.9 138.57 L623.3 138.34 L623.7 138.09 L624.1 137.85 L624.5 137.6 L624.9 137.33 L625.3 137.04 L625.7 136.73 L626.1 136.43 L626.5 136.16 L626.9 135.94 L627.3 135.77 L627.7 135.61 L628.1 135.46 L628.5 135.36 L628.9 135.3 L629.3 135.33 L629.7 135.43 L630.1 135.61 L630.5 135.82 L630.9 136.07 L631.3 136.48 L631.7 137.04 L632.1 137.68 L632.5 138.3 L632.9 138.93 L633.3 139.61 L633.7 140.3 L634.1 140.95 L634.5 141.5 L634.9 142.02 L635.3 142.53 L635.7 142.95 L636.1 143.18 L636.5 143.22 L636.9 143.25 L637.3 143.27 L637.7 143.29 L638.1 143.3 L638.5 143.3 L638.9 143.26 L639.3 143.16 L639.7 143 L640.1 142.8 L640.5 142.58 L640.9 142.35 L641.3 142.13 L641.7 141.93 L642.1 141.76 L642.5 141.6 L642.9 141.42 L643.3 141.24 L643.7 141.07 L644.1 140.9 L644.5 140.75 L644.9 140.62 L645.3 140.51 L645.7 140.43 L646.1 140.39 L646.5 140.37 L646.9 140.34 L647.3 140.32 L647.7 140.3 L648.1 140.28 L648.5 140.27 L648.9 140.25 L649.3 140.24 L649.7 140.23 L650.1 140.21 L650.5 140.2 L650.9 140.19 L651.3 140.18 L651.7 140.17 L652.1 140.16 L652.5 140.16 L652.9 140.15 L653.3 140.14 L653.7 140.13 L654.1 140.12 L654.5 140.1 L654.9 140.09 L655.3 140.08 L655.7 140.07 L656.1 140.05 L656.5 140.04 L656.9 140.03 L657.3 140.02 L657.7 140.01 L658.1 140 L658.5 139.99 L658.9 139.97 L659.3 139.96 L659.7 139.95 L660.1 139.94 L660.5 139.93 L660.9 139.92 L661.3 139.91 L661.7 139.9 L662.1 139.89 L662.5 139.87 L662.9 139.86 L663.3 139.85 L663.7 139.84 L664.1 139.83 L664.5 139.82 L664.9 139.8 L665.3 139.79 L665.7 139.78 L666.1 139.77 L666.5 139.75 L666.9 139.74 L667.3 139.73 L667.7 139.72 L668.1 139.7 L668.5 139.69 L668.9 139.68 L669.3 139.66 L669.7 139.65 L670.1 139.64 L670.5 139.62 L670.9 139.61 L671.3 139.6 L671.7 139.58 L672.1 139.57 L672.5 139.56 L672.9 139.54 L673.3 139.53 L673.7 139.52 L674.1 139.5 L674.5 139.49 L674.9 139.47 L675.3 139.46 L675.7 139.45 L676.1 139.43 L676.5 139.42 L676.9 139.4 L677.3 139.39 L677.7 139.38 L678.1 139.36 L678.5 139.35 L678.9 139.33 L679.3 139.32 L679.7 139.3 L679.8 139.3" stroke="#0000ff"/>
<path d="M587.7 191 L588 172.4" stroke="#0000ff" stroke-linecap="round"/>
<path d="M392.5 139.9 L392.9 139.97 L393.3 140.04 L393.7 140.1 L394.1 140.17 L394.5 140.24 L394.9 140.31 L395.3 140.37 L395.7 140.43 L396.1 140.5 L396.5 140.56 L396.9 140.61 L397.3 140.67 L397.7 140.72 L398.1 140.77 L398.5 140.82 L398.9 140.87 L399.3 140.91 L399.7 140.95 L400.1 140.98 L400.5 141.01 L400.9 141.04 L401.3 141.06 L401.7 141.08 L402.1 141.09 L402.5 141.1 L402.9 141.1 L403.3 141.1 L403.7 141.1 L404.1 141.1 L404.5 141.09 L404.9 141.09 L405.3 141.09 L405.7 141.08 L406.1 141.08 L406.5 141.07 L406.9 141.07 L407.3 141.06 L407.7 141.06 L408.1 141.05 L408.5 141.04 L408.9 141.03 L409.3 141.03 L409.7 141.02 L410.1 141.01 L410.5 141 L410.9 140.99 L411.3 140.98 L411.7 140.97 L412.1 140.96 L412.5 140.95 L412.9 140.94 L413.3 140.93 L413.7 140.92 L414.1 140.91 L414.5 140.89 L414.9 140.88 L415.3 140.87 L415.7 140.86 L416.1 140.85 L416.5 140.84 L416.9 140.83 L417.3 140.81 L417.7 140.8 L418.1 140.79 L418.5 140.78 L418.9 140.77 L419.3 140.75 L419.7 140.74 L420.1 140.72 L420.5 140.71 L420.9 140.69 L421.3 140.67 L421.7 140.65 L422.1 140.64 L422.5 140.62 L422.9 140.6 L423.3 140.58 L423.7 140.56 L424.1 140.54 L424.5 140.51 L424.9 140.49 L425.3 140.47 L425.7 140.45 L426.1 140.43 L426.5 140.4 L426.9 140.38 L427.3 140.36 L427.7 140.34 L428.1 140.31 L428.5 140.29 L428.9 140.27 L429.3 140.24 L429.7 140.22 L430.1 140.19 L430.5 140.17 L430.9 140.15 L431.3 140.13 L431.7 140.1 L432.1 140.08 L432.5 140.06 L432.9 140.03 L433.3 140.01 L433.7 139.99 L434.1 139.97 L434.5 139.95 L434.9 139.93 L435.3 139.91 L435.7 139.89 L436.1 139.87 L436.5 139.85 L436.9 139.83 L437.3 139.81 L437.7 139.8 L438.1 139.78 L438.5 139.76 L438.9 139.75 L439.3 139.73 L439.7 139.71 L440.1 139.7 L440.5 139.68 L440.9 139.66 L441.3 139.65 L441.7 139.63 L442.1 139.62 L442.5 139.6 L442.9 139.58 L443.3 139.57 L443.7 139.55 L444.1 139.54 L444.5 139.52 L444.9 139.51 L445.3 139.49 L445.7 139.48 L446.1 139.46 L446.5 139.45 L446.9 139.43 L447.3 139.42 L447.7 139.4 L448.1 139.39 L448.5 139.37 L448.9 139.36 L449.3 139.35 L449.7 139.33 L450.1 139.32 L450.5 139.3 L450.9 139.29 L451.3 139.27 L451.7 139.26 L452.1 139.25 L452.5 139.23 L452.9 139.22 L453.3 139.2 L453.7 139.19 L454.1 139.18 L454.5 139.16 L454.9 139.15 L455.3 139.14 L455.7 139.12 L456.1 139.11 L456.5 139.1 L456.9 139.08 L457.3 139.07 L457.7 139.06 L458.1 139.04 L458.5 139.03 L458.9 139.02 L459.3 139 L459.7 138.99 L460.1 138.98 L460.5 138.96 L460.9 138.95 L461.3 138.94 L461.7 138.92 L462.1 138.91 L462.5 138.9 L462.9 138.88 L463.3 138.87 L463.7 138.86 L464.1 138.85 L464.5 138.84 L464.9 138.82 L465.3 138.81 L465.7 138.8 L466.1 138.79 L466.5 138.78 L466.9 138.77 L467.3 138.76 L467.7 138.75 L468.1 138.74 L468.5 138.73 L468.9 138.72 L469.3 138.71 L469.7 138.7 L470.1 138.69 L470.5 138.68 L470.9 138.67 L471.3 138.66 L471.7 138.65 L472.1 138.64 L472.5 138.63 L472.9 138.62 L473.3 138.61 L473.7 138.6 L474.1 138.59 L474.5 138.58 L474.9 138.56 L475.3 138.55 L475.7 138.54 L476.1 138.53 L476.5 138.52 L476.9 138.51 L477.3 138.49 L477.7 138.48 L478.1 138.47 L478.5 138.45 L478.9 138.44 L479.3 138.42 L479.7 138.41 L480.1 138.39 L480.5 138.38 L480.9 138.36 L481.3 138.34 L481.7 138.33 L482.1 138.31 L482.5 138.29 L482.9 138.27 L483.3 138.25 L483.7 138.23 L484.1 138.21 L484.5 138.18 L484.9 138.16 L485.3 138.13 L485.7 138.1 L486.1 138.07 L486.5 138.04 L486.9 138.01 L487.3 137.98 L487.7 137.95 L488.1 137.92 L488.5 137.88 L488.9 137.85 L489.3 137.81 L489.7 137.78 L490.1 137.74 L490.5 137.7 L490.9 137.66 L491.3 137.63 L491.7 137.59 L492.1 137.55 L492.5 137.51 L492.9 137.46 L493.3 137.42 L493.7 137.38 L494.1 137.34 L494.5 137.3 L494.9 137.25 L495.3 137.21 L495.7 137.17 L496.1 137.12 L496.5 137.08 L496.9 137.03 L497.3 136.99 L497.7 136.94 L498.1 136.9 L498.5 136.85 L498.9 136.81 L499.3 136.76 L499.7 136.71 L500.1 136.67 L500.5 136.62 L500.9 136.57 L501.3 136.52 L501.7 136.47 L502.1 136.41 L502.5 136.36 L502.9 136.31 L503.3 136.25 L503.7 136.2 L504.1 136.14 L504.5 136.08 L504.9 136.02 L505.3 135.96 L505.7 135.9 L506.1 135.84 L506.5 135.77 L506.9 135.71 L507.3 135.64 L507.7 135.57 L508.1 135.5 L508.5 135.43 L508.9 135.36 L509.3 135.28 L509.7 135.2 L510.1 135.12 L510.5 135.04 L510.9 134.96 L511.3 134.88 L511.7 134.79 L512.1 134.7 L512.5 134.61 L512.9 134.51 L513.3 134.41 L513.7 134.3 L514.1 134.19 L514.5 134.08 L514.9 133.96 L515.3 133.83 L515.7 133.7 L516.1 133.57 L516.5 133.43 L516.9 133.29 L517.3 133.14 L517.7 132.99 L518.1 132.84 L518.5 132.68 L518.9 132.52 L519.3 132.35 L519.7 132.18 L520.1 132 L520.5 131.82 L520.9 131.64 L521.3 131.45 L521.7 131.26 L522.1 131.06 L522.5 130.86 L522.9 130.66 L523.3 130.45 L523.7 130.24 L524.1 130.02 L524.5 129.8 L524.9 129.57 L525.3 129.34 L525.7 129.09 L526.1 128.83 L526.5 128.55 L526.9 128.27 L527.3 127.97 L527.7 127.66 L528.1 127.34 L528.5 127.01 L528.9 126.66 L529.3 126.3 L529.7 125.92 L530.1 125.53 L530.5 125.13 L530.9 124.71 L531.3 124.28 L531.7 123.83 L532.1 123.36 L532.5 122.82 L532.9 122.21 L533.3 121.56 L533.7 120.86 L534.1 120.14 L534.5 119.4 L534.9 118.66 L535.3 117.93 L535.7 117.22 L536.1 116.51 L536.5 115.79 L536.9 115.05 L537.3 114.31 L537.7 113.56 L538.1 112.8 L538.5 112.04 L538.9 111.27 L539.3 110.5 L539.7 109.74 L540.1 108.97 L540.5 108.22 L540.9 107.46 L541.3 106.72 L541.7 105.98 L542.1 105.25 L542.5 104.54 L542.9 103.84 L543.3 103.16 L543.7 102.49 L544.1 101.83 L544.5 101.18 L544.9 100.54 L545.3 99.91 L545.7 99.28 L546.1 98.66 L546.5 98.04 L546.9 97.43 L547.3 96.82 L547.7 96.21 L548.1 95.61 L548.5 95 L548.9 94.39 L549.3 93.78 L549.7 93.16 L550.1 92.54 L550.5 91.91 L550.9 91.28 L551.3 90.64 L551.7 89.99 L552.1 89.33 L552.5 88.65 L552.9 87.94 L553.3 87.22 L553.7 86.48 L554.1 85.73 L554.5 84.99 L554.9 84.25 L555.3 83.52 L555.7 82.81 L556.1 82.13 L556.5 81.47 L556.9 80.85 L557.3 80.27 L557.7 79.72 L558.1 79.13 L558.5 78.53 L558.9 77.99 L559.3 77.57 L559.7 77.33 L560.1 77.33 L560.5 77.56 L560.9 77.97 L561.3 78.5 L561.7 79.46 L562.1 81.03 L562.5 82.98 L562.9 85.3 L563.3 88.37 L563.7 92.02 L564.1 96.32 L564.5 101.6 L564.9 107.55 L565.3 114.42 L565.7 122 L566.1 130.54 L566.5 139 L566.9 146.33 L567.3 153 L567.7 158.8 L568.1 163.99 L568.5 168.71 L568.9 173.06 L569.3 177.2 L569.7 181.06 L570.1 184.49 L570.5 187.41 L570.9 190.07 L571.3 192.46 L571.7 194.52 L572.1 196.19 L572.5 197.64 L572.9 198.81 L573.3 199.55 L573.7 200.07 L574.1 200.3 L574.5 200.13 L574.9 199.73 L575.3 199.29 L575.7 198.73 L576.1 198.05 L576.5 197.29 L576.9 196.48 L577.3 195.68 L577.7 194.92 L578.1 194.15 L578.5 193.37 L578.9 192.57 L579.3 191.76 L579.7 190.95 L580.1 190.12 L580.5 189.29 L580.9 188.46 L581.3 187.62 L581.7 186.78 L582.1 185.94 L582.5 185.1 L582.9 184.26 L583.3 183.43 L583.7 182.61 L584.1 181.8 L584.5 180.98 L584.9 180.14 L585.3 179.31 L585.7 178.47 L586.1 177.62 L586.5 176.78 L586.9 175.95 L587.3 175.12 L587.7 174.3 L588.1 173.5 L588.5 172.71 L588.9 171.94 L589.3 171.2 L589.7 170.48 L590.1 169.78 L590.5 169.09 L590.9 168.42 L591.3 167.76 L591.7 167.1 L592.1 166.46 L592.5 165.83 L592.9 165.2 L593.3 164.59 L593.7 163.98 L594.1 163.38 L594.5 162.79 L594.9 162.21 L595.3 161.63 L595.7 161.05 L596.1 160.48 L596.5 159.92 L596.9 159.36 L597.3 158.8 L597.7 158.24 L598.1 157.68 L598.5 157.11 L598.9 156.54 L599.3 155.97 L599.7 155.41 L600.1 154.85 L600.5 154.3 L600.9 153.75 L601.3 153.22 L601.7 152.7 L602.1 152.19 L602.5 151.7 L602.9 151.23 L603.3 150.78 L603.7 150.36 L604.1 149.95 L604.5 149.58 L604.9 149.23 L605.3 148.9 L605.7 148.59 L606.1 148.29 L606.5 148 L606.9 147.73 L607.3 147.47 L607.7 147.21 L608.1 146.96 L608.5 146.72 L608.9 146.48 L609.3 146.24 L609.7 146 L610.1 145.76 L610.5 145.52 L610.9 145.29 L611.3 145.06 L611.7 144.83 L612.1 144.61 L612.5 144.4 L612.9 144.18 L613.3 143.98 L613.7 143.78 L614.1 143.58 L614.5 143.39 L614.9 143.21 L615.3 143.03 L615.7 142.84 L616.1 142.66 L616.5 142.48 L616.9 142.31 L617.3 142.13 L617.7 141.96 L618.1 141.79 L618.5 141.62 L618.9 141.46 L619.3 141.31 L619.7 141.16 L620.1 141.02 L620.5 140.88 L620.9 140.76 L621.3 140.64 L621.7 140.53 L622.1 140.42 L622.5 140.33 L622.9 140.23 L623.3 140.13 L623.7 140.04 L624.1 139.94 L624.5 139.85 L624.9 139.77 L625.3 139.69 L625.7 139.63 L626.1 139.57 L626.5 139.53 L626.9 139.51 L627.3 139.5 L627.7 139.5 L628.1 139.51 L628.5 139.53 L628.9 139.55 L629.3 139.57 L629.7 139.6 L630.1 139.68 L630.5 139.85 L630.9 140.09 L631.3 140.38 L631.7 140.69 L632.1 141 L632.5 141.3 L632.9 141.6 L633.3 141.95 L633.7 142.32 L634.1 142.71 L634.5 143.09 L634.9 143.45 L635.3 143.77 L635.7 144.04 L636.1 144.25 L636.5 144.43 L636.9 144.62 L637.3 144.78 L637.7 144.9 L638.1 144.98 L638.5 145 L638.9 144.98 L639.3 144.95 L639.7 144.9 L640.1 144.83 L640.5 144.75 L640.9 144.66 L641.3 144.56 L641.7 144.45 L642.1 144.34 L642.5 144.23 L642.9 144.11 L643.3 144 L643.7 143.89 L644.1 143.79 L644.5 143.7 L644.9 143.62 L645.3 143.55 L645.7 143.47 L646.1 143.4 L646.5 143.33 L646.9 143.27 L647.3 143.2 L647.7 143.13 L648.1 143.06 L648.5 143 L648.9 142.93 L649.3 142.87 L649.7 142.81 L650.1 142.75 L650.5 142.68 L650.9 142.62 L651.3 142.56 L651.7 142.5 L652.1 142.45 L652.5 142.39 L652.9 142.33 L653.3 142.28 L653.7 142.22 L654.1 142.17 L654.5 142.11 L654.9 142.06 L655.3 142.01 L655.7 141.95 L656.1 141.9 L656.5 141.84 L656.9 141.79 L657.3 141.73 L657.7 141.68 L658.1 141.63 L658.5 141.57 L658.9 141.52 L659.3 141.47 L659.7 141.42 L660.1 141.37 L660.5 141.32 L660.9 141.28 L661.3 141.23 L661.7 141.19 L662.1 141.14 L662.5 141.1 L662.9 141.06 L663.3 141.03 L663.7 140.99 L664.1 140.96 L664.5 140.93 L664.9 140.91 L665.3 140.88 L665.7 140.86 L666.1 140.83 L666.5 140.81 L666.9 140.78 L667.3 140.76 L667.7 140.74 L668.1 140.71 L668.5 140.69 L668.9 140.67 L669.3 140.64 L669.7 140.62 L670.1 140.6 L670.5 140.58 L670.9 140.56 L671.3 140.54 L671.7 140.52 L672.1 140.5 L672.5 140.48 L672.9 140.46 L673.3 140.45 L673.7 140.43 L674.1 140.42 L674.5 140.4 L674.9 140.39 L675.3 140.37 L675.7 140.36 L676.1 140.35 L676.5 140.34 L676.9 140.33 L677.3 140.32 L677.7 140.32 L678.1 140.31 L678.5 140.31 L678.9 140.3 L679.3 140.3 L679.7 140.3 L679.8 140.3" stroke="#00ffff"/>
<path d="M392.5 139.9 L392.9 139.97 L393.3 140.05 L393.7 140.12 L394.1 140.19 L394.5 140.27 L394.9 140.34 L395.3 140.41 L395.7 140.48 L396.1 140.54 L396.5 140.61 L396.9 140.67 L397.3 140.73 L397.7 140.79 L398.1 140.85 L398.5 140.9 L398.9 140.95 L399.3 140.99 L399.7 141.03 L400.1 141.07 L400.5 141.1 L400.9 141.13 L401.3 141.16 L401.7 141.17 L402.1 141.19 L402.5 141.2 L402.9 141.2 L403.3 141.2 L403.7 141.2 L404.1 141.2 L404.5 141.19 L404.9 141.19 L405.3 141.19 L405.7 141.18 L406.1 141.18 L406.5 141.18 L406.9 141.17 L407.3 141.16 L407.7 141.16 L408.1 141.15 L408.5 141.14 L408.9 141.14 L409.3 141.13 L409.7 141.12 L410.1 141.11 L410.5 141.1 L410.9 141.09 L411.3 141.08 L411.7 141.07 L412.1 141.06 L412.5 141.05 L412.9 141.04 L413.3 141.03 L413.7 141.02 L414.1 141.01 L414.5 141 L414.9 140.99 L415.3 140.97 L415.7 140.96 L416.1 140.95 L416.5 140.94 L416.9 140.93 L417.3 140.91 L417.7 140.9 L418.1 140.89 L418.5 140.88 L418.9 140.86 L419.3 140.85 L419.7 140.83 L420.1 140.81 L420.5 140.8 L420.9 140.78 L421.3 140.76 L421.7 140.74 L422.1 140.72 L422.5 140.69 L422.9 140.67 L423.3 140.65 L423.7 140.62 L424.1 140.6 L424.5 140.58 L424.9 140.55 L425.3 140.52 L425.7 140.5 L426.1 140.47 L426.5 140.44 L426.9 140.42 L427.3 140.39 L427.7 140.36 L428.1 140.33 L428.5 140.3 L428.9 140.28 L429.3 140.25 L429.7 140.22 L430.1 140.19 L430.5 140.16 L430.9 140.13 L431.3 140.11 L431.7 140.08 L432.1 140.05 L432.5 140.02 L432.9 139.99 L433.3 139.97 L433.7 139.94 L434.1 139.91 L434.5 139.89 L434.9 139.86 L435.3 139.83 L435.7 139.81 L436.1 139.79 L436.5 139.76 L436.9 139.74 L437.3 139.72 L437.7 139.69 L438.1 139.67 L438.5 139.65 L438.9 139.63 L439.3 139.61 L439.7 139.59 L440.1 139.57 L440.5 139.55 L440.9 139.52 L441.3 139.5 L441.7 139.48 L442.1 139.46 L442.5 139.44 L442.9 139.42 L443.3 139.4 L443.7 139.38 L444.1 139.36 L444.5 139.34 L444.9 139.32 L445.3 139.3 L445.7 139.28 L446.1 139.26 L446.5 139.24 L446.9 139.22 L447.3 139.2 L447.7 139.18 L448.1 139.16 L448.5 139.14 L448.9 139.12 L449.3 139.1 L449.7 139.08 L450.1 139.06 L450.5 139.04 L450.9 139.03 L451.3 139.01 L451.7 138.99 L452.1 138.97 L452.5 138.95 L452.9 138.93 L453.3 138.91 L453.7 138.89 L454.1 138.87 L454.5 138.86 L454.9 138.84 L455.3 138.82 L455.7 138.8 L456.1 138.78 L456.5 138.76 L456.9 138.75 L457.3 138.73 L457.7 138.71 L458.1 138.69 L458.5 138.67 L458.9 138.66 L459.3 138.64 L459.7 138.62 L460.1 138.6 L460.5 138.58 L460.9 138.57 L461.3 138.55 L461.7 138.53 L462.1 138.51 L462.5 138.5 L462.9 138.48 L463.3 138.46 L463.7 138.45 L464.1 138.43 L464.5 138.41 L464.9 138.4 L465.3 138.38 L465.7 138.37 L466.1 138.36 L466.5 138.34 L466.9 138.33 L467.3 138.32 L467.7 138.3 L468.1 138.29 L468.5 138.28 L468.9 138.26 L469.3 138.25 L469.7 138.24 L470.1 138.23 L470.5 138.21 L470.9 138.2 L471.3 138.19 L471.7 138.17 L472.1 138.16 L472.5 138.15 L472.9 138.13 L473.3 138.12 L473.7 138.11 L474.1 138.09 L474.5 138.08 L474.9 138.06 L475.3 138.05 L475.7 138.03 L476.1 138.02 L476.5 138 L476.9 137.98 L477.3 137.97 L477.7 137.95 L478.1 137.93 L478.5 137.91 L478.9 137.89 L479.3 137.87 L479.7 137.85 L480.1 137.83 L480.5 137.81 L480.9 137.79 L481.3 137.76 L481.7 137.74 L482.1 137.71 L482.5 137.69 L482.9 137.66 L483.3 137.63 L483.7 137.59 L484.1 137.56 L484.5 137.52 L484.9 137.48 L485.3 137.44 L485.7 137.4 L486.1 137.35 L486.5 137.3 L486.9 137.25 L487.3 137.2 L487.7 137.15 L488.1 137.09 L488.5 137.04 L488.9 136.98 L489.3 136.92 L489.7 136.86 L490.1 136.79 L490.5 136.73 L490.9 136.66 L491.3 136.6 L491.7 136.53 L492.1 136.46 L492.5 136.39 L492.9 136.32 L493.3 136.25 L493.7 136.17 L494.1 136.1 L494.5 136.02 L494.9 135.95 L495.3 135.87 L495.7 135.79 L496.1 135.72 L496.5 135.64 L496.9 135.56 L497.3 135.48 L497.7 135.4 L498.1 135.31 L498.5 135.23 L498.9 135.14 L499.3 135.05 L499.7 134.95 L500.1 134.85 L500.5 134.75 L500.9 134.65 L501.3 134.55 L501.7 134.44 L502.1 134.33 L502.5 134.22 L502.9 134.11 L503.3 133.99 L503.7 133.87 L504.1 133.76 L504.5 133.63 L504.9 133.51 L505.3 133.38 L505.7 133.26 L506.1 133.13 L506.5 133 L506.9 132.86 L507.3 132.73 L507.7 132.59 L508.1 132.46 L508.5 132.32 L508.9 132.18 L509.3 132.03 L509.7 131.89 L510.1 131.74 L510.5 131.6 L510.9 131.45 L511.3 131.3 L511.7 131.15 L512.1 131 L512.5 130.85 L512.9 130.69 L513.3 130.53 L513.7 130.36 L514.1 130.19 L514.5 130.02 L514.9 129.84 L515.3 129.66 L515.7 129.48 L516.1 129.29 L516.5 129.1 L516.9 128.9 L517.3 128.71 L517.7 128.51 L518.1 128.31 L518.5 128.1 L518.9 127.9 L519.3 127.69 L519.7 127.48 L520.1 127.26 L520.5 127.05 L520.9 126.83 L521.3 126.61 L521.7 126.39 L522.1 126.16 L522.5 125.94 L522.9 125.71 L523.3 125.49 L523.7 125.26 L524.1 125.03 L524.5 124.8 L524.9 124.57 L525.3 124.33 L525.7 124.1 L526.1 123.85 L526.5 123.61 L526.9 123.36 L527.3 123.11 L527.7 122.85 L528.1 122.59 L528.5 122.33 L528.9 122.06 L529.3 121.79 L529.7 121.51 L530.1 121.23 L530.5 120.95 L530.9 120.65 L531.3 120.36 L531.7 120.05 L532.1 119.74 L532.5 119.42 L532.9 119.09 L533.3 118.75 L533.7 118.4 L534.1 118.04 L534.5 117.68 L534.9 117.31 L535.3 116.93 L535.7 116.55 L536.1 116.17 L536.5 115.78 L536.9 115.4 L537.3 115.01 L537.7 114.62 L538.1 114.22 L538.5 113.81 L538.9 113.4 L539.3 112.98 L539.7 112.57 L540.1 112.14 L540.5 111.72 L540.9 111.29 L541.3 110.86 L541.7 110.43 L542.1 109.99 L542.5 109.56 L542.9 109.13 L543.3 108.69 L543.7 108.26 L544.1 107.83 L544.5 107.4 L544.9 106.97 L545.3 106.55 L545.7 106.13 L546.1 105.72 L546.5 105.31 L546.9 104.9 L547.3 104.49 L547.7 104.09 L548.1 103.68 L548.5 103.27 L548.9 102.86 L549.3 102.46 L549.7 102.06 L550.1 101.66 L550.5 101.27 L550.9 100.88 L551.3 100.5 L551.7 100.13 L552.1 99.76 L552.5 99.4 L552.9 99.04 L553.3 98.66 L553.7 98.29 L554.1 97.92 L554.5 97.57 L554.9 97.25 L555.3 96.98 L555.7 96.75 L556.1 96.56 L556.5 96.38 L556.9 96.21 L557.3 96.08 L557.7 96.01 L558.1 96.02 L558.5 96.18 L558.9 96.45 L559.3 96.81 L559.7 97.3 L560.1 98.14 L560.5 99.23 L560.9 100.48 L561.3 101.89 L561.7 103.66 L562.1 105.7 L562.5 107.93 L562.9 110.34 L563.3 113.09 L563.7 116.08 L564.1 119.21 L564.5 122.48 L564.9 126.02 L565.3 129.7 L565.7 133.35 L566.1 136.86 L566.5 140.34 L566.9 143.77 L567.3 147 L567.7 149.94 L568.1 152.71 L568.5 155.32 L568.9 157.76 L569.3 160 L569.7 162.09 L570.1 164.07 L570.5 165.94 L570.9 167.67 L571.3 169.26 L571.7 170.71 L572.1 172.11 L572.5 173.44 L572.9 174.66 L573.3 175.73 L573.7 176.61 L574.1 177.35 L574.5 178.08 L574.9 178.74 L575.3 179.29 L575.7 179.66 L576.1 179.8 L576.5 179.79 L576.9 179.77 L577.3 179.73 L577.7 179.68 L578.1 179.62 L578.5 179.51 L578.9 179.26 L579.3 178.92 L579.7 178.49 L580.1 178.03 L580.5 177.56 L580.9 177.11 L581.3 176.68 L581.7 176.25 L582.1 175.8 L582.5 175.34 L582.9 174.87 L583.3 174.39 L583.7 173.89 L584.1 173.39 L584.5 172.89 L584.9 172.37 L585.3 171.86 L585.7 171.34 L586.1 170.81 L586.5 170.29 L586.9 169.77 L587.3 169.25 L587.7 168.73 L588.1 168.21 L588.5 167.7 L588.9 167.2 L589.3 166.71 L589.7 166.22 L590.1 165.74 L590.5 165.26 L590.9 164.78 L591.3 164.3 L591.7 163.81 L592.1 163.33 L592.5 162.85 L592.9 162.37 L593.3 161.9 L593.7 161.42 L594.1 160.95 L594.5 160.49 L594.9 160.03 L595.3 159.57 L595.7 159.13 L596.1 158.68 L596.5 158.25 L596.9 157.82 L597.3 157.4 L597.7 156.99 L598.1 156.57 L598.5 156.17 L598.9 155.76 L599.3 155.36 L599.7 154.97 L600.1 154.58 L600.5 154.2 L600.9 153.82 L601.3 153.45 L601.7 153.1 L602.1 152.75 L602.5 152.41 L602.9 152.08 L603.3 151.76 L603.7 151.45 L604.1 151.14 L604.5 150.84 L604.9 150.55 L605.3 150.26 L605.7 149.97 L606.1 149.69 L606.5 149.42 L606.9 149.15 L607.3 148.88 L607.7 148.62 L608.1 148.37 L608.5 148.12 L608.9 147.88 L609.3 147.64 L609.7 147.4 L610.1 147.17 L610.5 146.94 L610.9 146.72 L611.3 146.5 L611.7 146.28 L612.1 146.07 L612.5 145.86 L612.9 145.65 L613.3 145.45 L613.7 145.25 L614.1 145.06 L614.5 144.87 L614.9 144.69 L615.3 144.51 L615.7 144.33 L616.1 144.16 L616.5 143.98 L616.9 143.8 L617.3 143.61 L617.7 143.42 L618.1 143.23 L618.5 143.05 L618.9 142.87 L619.3 142.7 L619.7 142.54 L620.1 142.39 L620.5 142.26 L620.9 142.14 L621.3 142.04 L621.7 141.96 L622.1 141.91 L622.5 141.87 L622.9 141.84 L623.3 141.81 L623.7 141.78 L624.1 141.76 L624.5 141.74 L624.9 141.72 L625.3 141.71 L625.7 141.7 L626.1 141.7 L626.5 141.73 L626.9 141.78 L627.3 141.86 L627.7 141.96 L628.1 142.08 L628.5 142.2 L628.9 142.34 L629.3 142.47 L629.7 142.6 L630.1 142.74 L630.5 142.9 L630.9 143.08 L631.3 143.27 L631.7 143.47 L632.1 143.68 L632.5 143.89 L632.9 144.09 L633.3 144.29 L633.7 144.47 L634.1 144.64 L634.5 144.82 L634.9 145.01 L635.3 145.2 L635.7 145.39 L636.1 145.58 L636.5 145.75 L636.9 145.91 L637.3 146.03 L637.7 146.13 L638.1 146.19 L638.5 146.2 L638.9 146.19 L639.3 146.18 L639.7 146.17 L640.1 146.14 L640.5 146.12 L640.9 146.09 L641.3 146.06 L641.7 146.02 L642.1 145.99 L642.5 145.95 L642.9 145.9 L643.3 145.84 L643.7 145.78 L644.1 145.7 L644.5 145.63 L644.9 145.55 L645.3 145.46 L645.7 145.38 L646.1 145.29 L646.5 145.2 L646.9 145.12 L647.3 145.04 L647.7 144.96 L648.1 144.88 L648.5 144.81 L648.9 144.73 L649.3 144.66 L649.7 144.58 L650.1 144.51 L650.5 144.43 L650.9 144.35 L651.3 144.28 L651.7 144.2 L652.1 144.13 L652.5 144.06 L652.9 143.99 L653.3 143.91 L653.7 143.85 L654.1 143.78 L654.5 143.72 L654.9 143.65 L655.3 143.59 L655.7 143.53 L656.1 143.47 L656.5 143.41 L656.9 143.35 L657.3 143.29 L657.7 143.23 L658.1 143.17 L658.5 143.12 L658.9 143.06 L659.3 143.01 L659.7 142.95 L660.1 142.9 L660.5 142.84 L660.9 142.79 L661.3 142.74 L661.7 142.69 L662.1 142.64 L662.5 142.59 L662.9 142.54 L663.3 142.49 L663.7 142.45 L664.1 142.4 L664.5 142.35 L664.9 142.31 L665.3 142.27 L665.7 142.23 L666.1 142.18 L666.5 142.14 L666.9 142.1 L667.3 142.06 L667.7 142.02 L668.1 141.98 L668.5 141.93 L668.9 141.89 L669.3 141.86 L669.7 141.82 L670.1 141.78 L670.5 141.74 L670.9 141.7 L671.3 141.66 L671.7 141.63 L672.1 141.59 L672.5 141.55 L672.9 141.52 L673.3 141.48 L673.7 141.45 L674.1 141.41 L674.5 141.38 L674.9 141.35 L675.3 141.32 L675.7 141.29 L676.1 141.25 L676.5 141.22 L676.9 141.19 L677.3 141.17 L677.7 141.14 L678.1 141.11 L678.5 141.08 L678.9 141.06 L679.3 141.03 L679.7 141.01 L679.8 141" stroke="#ff00ff"/>
</g>
<path d="M399 139.2 H413.4 M426.48 139.2 H440.88 M453.96 139.2 H468.36 M481.44 139.2 H495.84 M508.92 139.2 H523.32 M536.4 139.2 H550.8 M563.88 139.2 H578.28 M591.36 139.2 H605.76 M618.84 139.2 H633.24 M646.32 139.2 H660.72 M673.8 139.2 H679.8" stroke="#000" stroke-width="2.9" fill="none"/>
<path d="M535.5 10.2 V17.8 M535.5 31.3 V45.3 M535.5 58.8 V72.8 M535.5 86.3 V100.3 M535.5 113.8 V127.8 M535.5 141.3 V155.3 M535.5 168.8 V182.8 M535.5 196.3 V210.3 M535.5 223.8 V237.8 M535.5 251.3 V265.3" stroke="#000" stroke-width="2.7" fill="none"/>
<path d="M414.4 34.3 H441.9" stroke="#0000ff" stroke-width="3" stroke-linecap="round" fill="none"/>
<text x="445.7" y="38.4" font-size="12.3" font-weight="bold">300K</text>
<path d="M414.4 50 H441.9" stroke="#00ffff" stroke-width="3" stroke-linecap="round" fill="none"/>
<text x="445.7" y="54.1" font-size="12.3" font-weight="bold">600K</text>
<path d="M414.4 65.7 H441.9" stroke="#ff00ff" stroke-width="3" stroke-linecap="round" fill="none"/>
<text x="445.7" y="69.8" font-size="12.3" font-weight="bold">900K</text>
<text x="599.8" y="45.9" font-size="15.8" font-weight="bold">PtTiPb</text>
<text x="392.5" y="293.6" font-size="20" font-weight="bold" text-anchor="middle">-2</text>
<text x="464.32" y="293.6" font-size="20" font-weight="bold" text-anchor="middle">-1</text>
<text x="536.15" y="293.6" font-size="20" font-weight="bold" text-anchor="middle">0</text>
<text x="607.97" y="293.6" font-size="20" font-weight="bold" text-anchor="middle">1</text>
<text x="679.8" y="293.6" font-size="20" font-weight="bold" text-anchor="middle">2</text>
<text x="525.7" y="310.6" font-size="22.5" text-anchor="end">&#956;&#8211;</text>
<text x="526.1" y="310.6" font-size="20.3" font-weight="bold">E<tspan font-size="12.5" dy="5">F</tspan><tspan dy="-5">(eV)</tspan></text>
</g>
<g>
<clipPath id="cb1"><rect x="89.4" y="352.7" width="273.5" height="245.2"/></clipPath>
<path d="M157.97 595.95 v-6.7 M157.97 354.05 v6.7 M226.15 595.95 v-6.7 M226.15 354.05 v6.7 M294.32 595.95 v-6.7 M294.32 354.05 v6.7 M123.89 595.95 v-3 M123.89 354.05 v3 M192.06 595.95 v-3 M192.06 354.05 v3 M260.24 595.95 v-3 M260.24 354.05 v3 M328.41 595.95 v-3 M328.41 354.05 v3 M91.15 434.23 h7.7 M361.15 434.23 h-7.7 M91.15 515.77 h7.7 M361.15 515.77 h-7.7 M91.15 393.47 h2.8 M361.15 393.47 h-2.8 M91.15 475 h2.8 M361.15 475 h-2.8 M91.15 556.53 h2.8 M361.15 556.53 h-2.8" stroke="#000" stroke-width="2.85" fill="none"/>
<rect x="89.8" y="352.7" width="272.7" height="244.6" fill="none" stroke="#000" stroke-width="2.7"/>
<path d="M226.2 352.7 V358.6 M226.2 371.4 V384.7 M226.2 397.5 V410.8 M226.2 423.6 V436.9 M226.2 449.7 V463 M226.2 475.8 V489.1 M226.2 501.9 V515.2 M226.2 528 V541.3 M226.2 554.1 V567.4 M226.2 580.2 V593.5" stroke="#000" stroke-width="3" fill="none"/>
<g clip-path="url(#cb1)" fill="none" stroke-linejoin="round" stroke-linecap="butt" stroke-width="2.5">
<path d="M89.8 594.8 L90.2 594.76 L90.6 594.71 L91 594.67 L91.4 594.63 L91.8 594.59 L92.2 594.55 L92.6 594.51 L93 594.47 L93.4 594.43 L93.8 594.39 L94.2 594.35 L94.6 594.31 L95 594.27 L95.4 594.23 L95.8 594.19 L96.2 594.16 L96.6 594.12 L97 594.09 L97.4 594.05 L97.8 594.02 L98.2 593.98 L98.6 593.95 L99 593.91 L99.4 593.87 L99.8 593.83 L100.2 593.79 L100.6 593.75 L101 593.71 L101.4 593.67 L101.8 593.64 L102.2 593.6 L102.6 593.56 L103 593.52 L103.4 593.49 L103.8 593.46 L104.2 593.43 L104.6 593.4 L105 593.37 L105.4 593.35 L105.8 593.33 L106.2 593.32 L106.6 593.31 L107 593.3 L107.4 593.3 L107.8 593.3 L108.2 593.32 L108.6 593.34 L109 593.36 L109.4 593.4 L109.8 593.44 L110.2 593.48 L110.6 593.53 L111 593.59 L111.4 593.64 L111.8 593.71 L112.2 593.77 L112.6 593.84 L113 593.9 L113.4 593.97 L113.8 594.04 L114.2 594.11 L114.6 594.18 L115 594.24 L115.4 594.31 L115.8 594.37 L116.2 594.43 L116.6 594.49 L117 594.56 L117.4 594.64 L117.8 594.71 L118.2 594.79 L118.6 594.87 L119 594.95 L119.4 595.04 L119.8 595.12 L120.2 595.2 L120.6 595.29 L121 595.37 L121.4 595.45 L121.8 595.53 L122.2 595.6 L122.6 595.67 L123 595.74 L123.4 595.8 L123.8 595.86 L124.2 595.91 L124.6 595.96 L125 596 L125.4 596.04 L125.8 596.07 L126.2 596.11 L126.6 596.14 L127 596.18 L127.4 596.21 L127.8 596.25 L128.2 596.28 L128.6 596.31 L129 596.34 L129.4 596.37 L129.8 596.4 L130.2 596.43 L130.6 596.45 L131 596.48 L131.4 596.5 L131.8 596.52 L132.2 596.54 L132.6 596.55 L133 596.57 L133.4 596.58 L133.8 596.59 L134.2 596.59 L134.6 596.6 L135 596.6 L135.4 596.6 L135.8 596.6 L136.2 596.6 L136.6 596.59 L137 596.59 L137.4 596.59 L137.8 596.58 L138.2 596.57 L138.6 596.57 L139 596.56 L139.4 596.55 L139.8 596.54 L140.2 596.53 L140.6 596.52 L141 596.51 L141.4 596.5 L141.8 596.49 L142.2 596.48 L142.6 596.47 L143 596.45 L143.4 596.44 L143.8 596.43 L144.2 596.41 L144.6 596.4 L145 596.38 L145.4 596.37 L145.8 596.35 L146.2 596.34 L146.6 596.32 L147 596.3 L147.4 596.29 L147.8 596.27 L148.2 596.25 L148.6 596.24 L149 596.22 L149.4 596.2 L149.8 596.18 L150.2 596.15 L150.6 596.12 L151 596.09 L151.4 596.05 L151.8 596 L152.2 595.96 L152.6 595.91 L153 595.86 L153.4 595.81 L153.8 595.76 L154.2 595.71 L154.6 595.67 L155 595.62 L155.4 595.58 L155.8 595.54 L156.2 595.5 L156.6 595.47 L157 595.44 L157.4 595.42 L157.8 595.41 L158.2 595.4 L158.6 595.4 L159 595.41 L159.4 595.43 L159.8 595.45 L160.2 595.48 L160.6 595.52 L161 595.56 L161.4 595.6 L161.8 595.65 L162.2 595.7 L162.6 595.76 L163 595.81 L163.4 595.87 L163.8 595.92 L164.2 595.98 L164.6 596.03 L165 596.08 L165.4 596.13 L165.8 596.17 L166.2 596.21 L166.6 596.25 L167 596.28 L167.4 596.3 L167.8 596.32 L168.2 596.34 L168.6 596.36 L169 596.37 L169.4 596.39 L169.8 596.41 L170.2 596.43 L170.6 596.44 L171 596.46 L171.4 596.47 L171.8 596.49 L172.2 596.5 L172.6 596.51 L173 596.53 L173.4 596.54 L173.8 596.55 L174.2 596.56 L174.6 596.57 L175 596.58 L175.4 596.58 L175.8 596.59 L176.2 596.59 L176.6 596.6 L177 596.6 L177.4 596.6 L177.8 596.6 L178.2 596.6 L178.6 596.59 L179 596.59 L179.4 596.58 L179.8 596.57 L180.2 596.56 L180.6 596.54 L181 596.53 L181.4 596.51 L181.8 596.5 L182.2 596.48 L182.6 596.46 L183 596.43 L183.4 596.41 L183.8 596.39 L184.2 596.36 L184.6 596.33 L185 596.3 L185.4 596.26 L185.8 596.19 L186.2 596.1 L186.6 595.98 L187 595.85 L187.4 595.71 L187.8 595.54 L188.2 595.37 L188.6 595.19 L189 595 L189.4 594.79 L189.8 594.53 L190.2 594.24 L190.6 593.9 L191 593.53 L191.4 593.12 L191.8 592.68 L192.2 592.2 L192.6 591.64 L193 590.97 L193.4 590.2 L193.8 589.36 L194.2 588.44 L194.6 587.49 L195 586.5 L195.4 585.45 L195.8 584.31 L196.2 583.07 L196.6 581.75 L197 580.34 L197.4 578.83 L197.8 577.13 L198.2 575.28 L198.6 573.37 L199 571.44 L199.4 569.54 L199.8 567.54 L200.2 565.52 L200.6 563.64 L201 562.02 L201.4 560.49 L201.8 559.1 L202.2 558 L202.6 557.27 L203 556.64 L203.4 556.15 L203.8 555.91 L204.2 555.96 L204.6 556.22 L205 556.59 L205.4 557 L205.8 557.41 L206.2 557.95 L206.6 558.57 L207 559.21 L207.4 559.81 L207.8 560.31 L208.2 560.67 L208.6 561.01 L209 561.34 L209.4 561.65 L209.8 561.93 L210.2 562.17 L210.6 562.37 L211 562.51 L211.4 562.59 L211.8 562.59 L212.2 562.53 L212.6 562.41 L213 562.24 L213.4 562.04 L213.8 561.81 L214.2 561.55 L214.6 561.28 L215 561 L215.4 560.66 L215.8 560.22 L216.2 559.7 L216.6 559.14 L217 558.55 L217.4 557.98 L217.8 557.44 L218.2 556.96 L218.6 556.48 L219 556 L219.4 555.56 L219.8 555.17 L220.2 554.84 L220.6 554.51 L221 554.27 L221.4 554.21 L221.8 554.51 L222.2 555.09 L222.6 555.8 L223 556.96 L223.4 558.59 L223.8 560.53 L224.2 562.59 L224.6 564.6 L225 566.63 L225.4 568.82 L225.8 571.08 L226.2 573.35 L226.6 575.55 L227 577.81 L227.4 580.09 L227.8 582.26 L228.2 584.18 L228.6 585.8 L229 587.3 L229.4 588.65 L229.8 589.8 L230.2 590.76 L230.6 591.62 L231 592.41 L231.4 593.09 L231.8 593.66 L232.2 594.1 L232.6 594.49 L233 594.85 L233.4 595.17 L233.8 595.45 L234.2 595.69 L234.6 595.87 L235 596 L235.4 596.1 L235.8 596.19 L236.2 596.27 L236.6 596.35 L237 596.42 L237.4 596.48 L237.8 596.54 L238.2 596.59 L238.6 596.63 L239 596.66 L239.4 596.68 L239.8 596.7 L240.2 596.7 L240.6 596.71 L241 596.71 L241.4 596.72 L241.8 596.72 L242.2 596.72 L242.6 596.73 L243 596.73 L243.4 596.74 L243.8 596.74 L244.2 596.74 L244.6 596.75 L245 596.75 L245.4 596.75 L245.8 596.76 L246.2 596.76 L246.6 596.76 L247 596.76 L247.4 596.77 L247.8 596.77 L248.2 596.77 L248.6 596.77 L249 596.77 L249.4 596.78 L249.8 596.78 L250.2 596.78 L250.6 596.78 L251 596.78 L251.4 596.79 L251.8 596.79 L252.2 596.79 L252.6 596.79 L253 596.79 L253.4 596.79 L253.8 596.79 L254.2 596.79 L254.6 596.79 L255 596.8 L255.4 596.8 L255.8 596.8 L256.2 596.8 L256.6 596.8 L257 596.8 L257.4 596.8 L257.8 596.8 L258.2 596.8 L258.6 596.8 L259 596.8 L259.4 596.8 L259.8 596.8 L260.2 596.8 L260.6 596.8 L261 596.8 L261.4 596.8 L261.8 596.8 L262.2 596.8 L262.6 596.8 L263 596.8 L263.4 596.8 L263.8 596.8 L264.2 596.8 L264.6 596.8 L265 596.8 L265.4 596.79 L265.8 596.79 L266.2 596.79 L266.6 596.79 L267 596.79 L267.4 596.79 L267.8 596.79 L268.2 596.78 L268.6 596.78 L269 596.78 L269.4 596.78 L269.8 596.78 L270.2 596.78 L270.6 596.77 L271 596.77 L271.4 596.77 L271.8 596.76 L272.2 596.76 L272.6 596.76 L273 596.76 L273.4 596.75 L273.8 596.75 L274.2 596.75 L274.6 596.74 L275 596.74 L275.4 596.73 L275.8 596.73 L276.2 596.72 L276.6 596.72 L277 596.72 L277.4 596.71 L277.8 596.71 L278.2 596.7 L278.6 596.69 L279 596.69 L279.4 596.68 L279.8 596.68 L280.2 596.67 L280.6 596.66 L281 596.66 L281.4 596.65 L281.8 596.64 L282.2 596.64 L282.6 596.63 L283 596.62 L283.4 596.61 L283.8 596.6 L284.2 596.59 L284.6 596.54 L285 596.45 L285.4 596.32 L285.8 596.16 L286.2 595.98 L286.6 595.78 L287 595.57 L287.4 595.34 L287.8 595.11 L288.2 594.88 L288.6 594.62 L289 594.33 L289.4 594.01 L289.8 593.65 L290.2 593.25 L290.6 592.8 L291 592.32 L291.4 591.78 L291.8 591.18 L292.2 590.35 L292.6 589.35 L293 588.24 L293.4 587.1 L293.8 586 L294.2 584.87 L294.6 583.67 L295 582.49 L295.4 581.44 L295.8 580.59 L296.2 579.8 L296.6 579.1 L297 578.57 L297.4 578.26 L297.8 578.02 L298.2 577.82 L298.6 577.71 L299 577.72 L299.4 577.83 L299.8 578.02 L300.2 578.24 L300.6 578.45 L301 578.72 L301.4 579.04 L301.8 579.38 L302.2 579.71 L302.6 580 L303 580.2 L303.4 580.35 L303.8 580.5 L304.2 580.63 L304.6 580.75 L305 580.83 L305.4 580.89 L305.8 580.9 L306.2 580.79 L306.6 580.57 L307 580.26 L307.4 579.9 L307.8 579.39 L308.2 578.57 L308.6 577.55 L309 576.4 L309.4 574.94 L309.8 573.26 L310.2 571.5 L310.6 569.63 L311 567.6 L311.4 565.52 L311.8 563.41 L312.2 561.23 L312.6 559.06 L313 556.99 L313.4 554.96 L313.8 553.05 L314.2 551.41 L314.6 549.9 L315 548.77 L315.4 548.21 L315.8 547.85 L316.2 547.92 L316.6 548.74 L317 549.94 L317.4 552.06 L317.8 554.89 L318.2 557.84 L318.6 561.12 L319 564.64 L319.4 568 L319.8 571.17 L320.2 574.27 L320.6 577.08 L321 579.43 L321.4 581.52 L321.8 583.28 L322.2 584.64 L322.6 585.8 L323 586.76 L323.4 587.5 L323.8 588.08 L324.2 588.59 L324.6 589.05 L325 589.45 L325.4 589.79 L325.8 590.07 L326.2 590.31 L326.6 590.51 L327 590.67 L327.4 590.81 L327.8 590.94 L328.2 591.06 L328.6 591.18 L329 591.32 L329.4 591.49 L329.8 591.69 L330.2 591.94 L330.6 592.29 L331 592.71 L331.4 593.17 L331.8 593.6 L332.2 594 L332.6 594.42 L333 594.85 L333.4 595.23 L333.8 595.51 L334.2 595.67 L334.6 595.8 L335 595.92 L335.4 596.03 L335.8 596.13 L336.2 596.22 L336.6 596.29 L337 596.34 L337.4 596.38 L337.8 596.4 L338.2 596.39 L338.6 596.29 L339 596.1 L339.4 595.85 L339.8 595.55 L340.2 595.21 L340.6 594.86 L341 594.5 L341.4 594.05 L341.8 593.48 L342.2 592.86 L342.6 592.27 L343 591.8 L343.4 591.4 L343.8 591.01 L344.2 590.72 L344.6 590.6 L345 590.72 L345.4 591.01 L345.8 591.4 L346.2 591.8 L346.6 592.31 L347 592.96 L347.4 593.61 L347.8 594.08 L348.2 594.27 L348.6 594.4 L349 594.5 L349.4 594.57 L349.8 594.6 L350.2 594.48 L350.6 594.03 L351 593.36 L351.4 592.6 L351.8 591.53 L352.2 590.12 L352.6 588.45 L353 586.21 L353.4 583.53 L353.8 580.69 L354.2 577.81 L354.6 574.69 L355 571.66 L355.4 569 L355.8 566.5 L356.2 564.42 L356.6 562.78 L357 561.4 L357.4 561.02 L357.8 561.4 L358.2 562.1 L358.6 562.99 L359 564.42 L359.4 566.24 L359.8 568.22 L360.2 570.67 L360.6 573.31 L361 575.6 L361.4 577.74 L361.8 579.77 L362.2 581.67 L362.5 583" stroke="#0000ff"/>
<path d="M89.8 591 L90.2 590.86 L90.6 590.72 L91 590.58 L91.4 590.45 L91.8 590.31 L92.2 590.18 L92.6 590.05 L93 589.92 L93.4 589.79 L93.8 589.66 L94.2 589.53 L94.6 589.41 L95 589.29 L95.4 589.16 L95.8 589.04 L96.2 588.92 L96.6 588.8 L97 588.69 L97.4 588.57 L97.8 588.46 L98.2 588.34 L98.6 588.23 L99 588.11 L99.4 587.99 L99.8 587.88 L100.2 587.76 L100.6 587.65 L101 587.54 L101.4 587.44 L101.8 587.34 L102.2 587.25 L102.6 587.17 L103 587.1 L103.4 587.03 L103.8 586.96 L104.2 586.89 L104.6 586.82 L105 586.76 L105.4 586.7 L105.8 586.66 L106.2 586.63 L106.6 586.6 L107 586.6 L107.4 586.61 L107.8 586.64 L108.2 586.68 L108.6 586.74 L109 586.8 L109.4 586.87 L109.8 586.95 L110.2 587.03 L110.6 587.12 L111 587.2 L111.4 587.29 L111.8 587.39 L112.2 587.51 L112.6 587.64 L113 587.78 L113.4 587.94 L113.8 588.1 L114.2 588.26 L114.6 588.44 L115 588.61 L115.4 588.8 L115.8 588.98 L116.2 589.17 L116.6 589.36 L117 589.54 L117.4 589.73 L117.8 589.91 L118.2 590.09 L118.6 590.28 L119 590.47 L119.4 590.68 L119.8 590.88 L120.2 591.1 L120.6 591.32 L121 591.54 L121.4 591.76 L121.8 591.98 L122.2 592.2 L122.6 592.42 L123 592.63 L123.4 592.84 L123.8 593.04 L124.2 593.24 L124.6 593.43 L125 593.6 L125.4 593.77 L125.8 593.93 L126.2 594.07 L126.6 594.22 L127 594.37 L127.4 594.52 L127.8 594.67 L128.2 594.82 L128.6 594.97 L129 595.11 L129.4 595.25 L129.8 595.39 L130.2 595.52 L130.6 595.64 L131 595.75 L131.4 595.86 L131.8 595.95 L132.2 596.03 L132.6 596.09 L133 596.14 L133.4 596.18 L133.8 596.2 L134.2 596.2 L134.6 596.2 L135 596.2 L135.4 596.19 L135.8 596.19 L136.2 596.19 L136.6 596.18 L137 596.17 L137.4 596.17 L137.8 596.16 L138.2 596.15 L138.6 596.14 L139 596.13 L139.4 596.12 L139.8 596.1 L140.2 596.09 L140.6 596.08 L141 596.07 L141.4 596.05 L141.8 596.04 L142.2 596.02 L142.6 596 L143 595.98 L143.4 595.95 L143.8 595.91 L144.2 595.86 L144.6 595.8 L145 595.73 L145.4 595.66 L145.8 595.58 L146.2 595.49 L146.6 595.4 L147 595.31 L147.4 595.21 L147.8 595.11 L148.2 595.01 L148.6 594.91 L149 594.82 L149.4 594.72 L149.8 594.63 L150.2 594.54 L150.6 594.45 L151 594.37 L151.4 594.3 L151.8 594.23 L152.2 594.15 L152.6 594.07 L153 593.99 L153.4 593.9 L153.8 593.82 L154.2 593.74 L154.6 593.66 L155 593.58 L155.4 593.51 L155.8 593.44 L156.2 593.38 L156.6 593.32 L157 593.28 L157.4 593.24 L157.8 593.21 L158.2 593.2 L158.6 593.2 L159 593.21 L159.4 593.23 L159.8 593.25 L160.2 593.28 L160.6 593.32 L161 593.36 L161.4 593.4 L161.8 593.45 L162.2 593.5 L162.6 593.55 L163 593.61 L163.4 593.66 L163.8 593.72 L164.2 593.77 L164.6 593.83 L165 593.9 L165.4 593.97 L165.8 594.06 L166.2 594.16 L166.6 594.26 L167 594.37 L167.4 594.48 L167.8 594.59 L168.2 594.69 L168.6 594.8 L169 594.89 L169.4 594.98 L169.8 595.05 L170.2 595.11 L170.6 595.16 L171 595.19 L171.4 595.2 L171.8 595.2 L172.2 595.2 L172.6 595.2 L173 595.2 L173.4 595.2 L173.8 595.2 L174.2 595.2 L174.6 595.2 L175 595.2 L175.4 595.2 L175.8 595.2 L176.2 595.2 L176.6 595.2 L177 595.2 L177.4 595.2 L177.8 595.17 L178.2 595.1 L178.6 594.99 L179 594.85 L179.4 594.69 L179.8 594.52 L180.2 594.34 L180.6 594.16 L181 594 L181.4 593.85 L181.8 593.71 L182.2 593.56 L182.6 593.42 L183 593.27 L183.4 593.1 L183.8 592.93 L184.2 592.73 L184.6 592.51 L185 592.26 L185.4 591.99 L185.8 591.64 L186.2 591.19 L186.6 590.65 L187 590.03 L187.4 589.33 L187.8 588.55 L188.2 587.72 L188.6 586.76 L189 585.53 L189.4 584.09 L189.8 582.52 L190.2 580.86 L190.6 579.18 L191 577.39 L191.4 575.47 L191.8 573.44 L192.2 571.33 L192.6 569.18 L193 567 L193.4 564.8 L193.8 562.55 L194.2 560.23 L194.6 557.85 L195 555.39 L195.4 552.85 L195.8 550.21 L196.2 547.47 L196.6 544.62 L197 541.69 L197.4 538.67 L197.8 535.58 L198.2 532.39 L198.6 529.06 L199 525.61 L199.4 522.09 L199.8 518.53 L200.2 514.98 L200.6 511.33 L201 507.52 L201.4 503.75 L201.8 500.18 L202.2 497 L202.6 494.14 L203 491.43 L203.4 488.88 L203.8 486.51 L204.2 484.35 L204.6 482.4 L205 480.6 L205.4 478.9 L205.8 477.32 L206.2 475.88 L206.6 474.64 L207 473.6 L207.4 472.7 L207.8 471.87 L208.2 471.15 L208.6 470.58 L209 470.2 L209.4 469.94 L209.8 469.71 L210.2 469.54 L210.6 469.43 L211 469.4 L211.4 469.48 L211.8 469.62 L212.2 469.83 L212.6 470.06 L213 470.3 L213.4 470.58 L213.8 470.93 L214.2 471.33 L214.6 471.76 L215 472.2 L215.4 472.64 L215.8 473.1 L216.2 473.59 L216.6 474.13 L217 474.74 L217.4 475.44 L217.8 476.26 L218.2 477.19 L218.6 478.21 L219 479.29 L219.4 480.42 L219.8 481.59 L220.2 482.84 L220.6 484.17 L221 485.59 L221.4 487.09 L221.8 488.67 L222.2 490.32 L222.6 492.11 L223 494.03 L223.4 496.06 L223.8 498.17 L224.2 500.32 L224.6 502.5 L225 504.72 L225.4 507.01 L225.8 509.37 L226.2 511.77 L226.6 514.22 L227 516.68 L227.4 519.18 L227.8 521.73 L228.2 524.33 L228.6 526.95 L229 529.58 L229.4 532.2 L229.8 534.8 L230.2 537.43 L230.6 540.08 L231 542.71 L231.4 545.31 L231.8 547.85 L232.2 550.31 L232.6 552.71 L233 555.07 L233.4 557.38 L233.8 559.65 L234.2 561.85 L234.6 564 L235 566.12 L235.4 568.24 L235.8 570.3 L236.2 572.28 L236.6 574.13 L237 575.8 L237.4 577.33 L237.8 578.78 L238.2 580.14 L238.6 581.42 L239 582.62 L239.4 583.73 L239.8 584.78 L240.2 585.77 L240.6 586.72 L241 587.6 L241.4 588.42 L241.8 589.16 L242.2 589.83 L242.6 590.45 L243 591.03 L243.4 591.57 L243.8 592.06 L244.2 592.5 L244.6 592.89 L245 593.25 L245.4 593.59 L245.8 593.9 L246.2 594.17 L246.6 594.41 L247 594.6 L247.4 594.77 L247.8 594.93 L248.2 595.08 L248.6 595.22 L249 595.35 L249.4 595.48 L249.8 595.59 L250.2 595.69 L250.6 595.79 L251 595.86 L251.4 595.93 L251.8 595.98 L252.2 596.02 L252.6 596.05 L253 596.09 L253.4 596.12 L253.8 596.15 L254.2 596.19 L254.6 596.21 L255 596.24 L255.4 596.27 L255.8 596.3 L256.2 596.32 L256.6 596.34 L257 596.36 L257.4 596.39 L257.8 596.4 L258.2 596.42 L258.6 596.44 L259 596.45 L259.4 596.46 L259.8 596.47 L260.2 596.48 L260.6 596.49 L261 596.49 L261.4 596.5 L261.8 596.5 L262.2 596.5 L262.6 596.49 L263 596.48 L263.4 596.46 L263.8 596.44 L264.2 596.41 L264.6 596.38 L265 596.34 L265.4 596.29 L265.8 596.25 L266.2 596.2 L266.6 596.14 L267 596.09 L267.4 596.03 L267.8 595.97 L268.2 595.9 L268.6 595.84 L269 595.77 L269.4 595.7 L269.8 595.63 L270.2 595.56 L270.6 595.48 L271 595.39 L271.4 595.28 L271.8 595.17 L272.2 595.04 L272.6 594.91 L273 594.77 L273.4 594.62 L273.8 594.47 L274.2 594.32 L274.6 594.16 L275 594 L275.4 593.84 L275.8 593.68 L276.2 593.52 L276.6 593.35 L277 593.17 L277.4 592.98 L277.8 592.77 L278.2 592.55 L278.6 592.3 L279 592.04 L279.4 591.74 L279.8 591.41 L280.2 590.99 L280.6 590.45 L281 589.82 L281.4 589.12 L281.8 588.37 L282.2 587.58 L282.6 586.79 L283 586 L283.4 585.2 L283.8 584.35 L284.2 583.46 L284.6 582.53 L285 581.57 L285.4 580.59 L285.8 579.58 L286.2 578.56 L286.6 577.52 L287 576.45 L287.4 575.35 L287.8 574.22 L288.2 573.06 L288.6 571.88 L289 570.67 L289.4 569.44 L289.8 568.18 L290.2 566.89 L290.6 565.55 L291 564.18 L291.4 562.78 L291.8 561.37 L292.2 559.94 L292.6 558.52 L293 557.1 L293.4 555.68 L293.8 554.25 L294.2 552.81 L294.6 551.36 L295 549.91 L295.4 548.46 L295.8 547.01 L296.2 545.56 L296.6 544.11 L297 542.65 L297.4 541.18 L297.8 539.71 L298.2 538.25 L298.6 536.8 L299 535.38 L299.4 533.98 L299.8 532.62 L300.2 531.28 L300.6 529.96 L301 528.65 L301.4 527.37 L301.8 526.12 L302.2 524.9 L302.6 523.71 L303 522.58 L303.4 521.51 L303.8 520.45 L304.2 519.38 L304.6 518.28 L305 517.1 L305.4 515.85 L305.8 514.56 L306.2 513.22 L306.6 511.87 L307 510.5 L307.4 509.11 L307.8 507.69 L308.2 506.26 L308.6 504.82 L309 503.38 L309.4 501.91 L309.8 500.44 L310.2 499.01 L310.6 497.67 L311 496.35 L311.4 495.07 L311.8 493.96 L312.2 493.08 L312.6 492.33 L313 491.8 L313.4 491.46 L313.8 491.45 L314.2 491.77 L314.6 492.34 L315 493.48 L315.4 494.84 L315.8 496.38 L316.2 498.26 L316.6 500.69 L317 503.79 L317.4 507.31 L317.8 511 L318.2 514.97 L318.6 519.31 L319 523.75 L319.4 528 L319.8 532.02 L320.2 535.97 L320.6 539.8 L321 543.5 L321.4 547.09 L321.8 550.57 L322.2 553.93 L322.6 557.1 L323 560.12 L323.4 563.02 L323.8 565.78 L324.2 568.38 L324.6 570.83 L325 573.19 L325.4 575.41 L325.8 577.4 L326.2 579.14 L326.6 580.71 L327 582.15 L327.4 583.48 L327.8 584.71 L328.2 585.87 L328.6 586.98 L329 588.03 L329.4 588.98 L329.8 589.83 L330.2 590.55 L330.6 591.2 L331 591.78 L331.4 592.31 L331.8 592.78 L332.2 593.21 L332.6 593.62 L333 593.99 L333.4 594.32 L333.8 594.59 L334.2 594.8 L334.6 594.99 L335 595.16 L335.4 595.33 L335.8 595.48 L336.2 595.62 L336.6 595.74 L337 595.84 L337.4 595.92 L337.8 595.98 L338.2 596.02 L338.6 596.05 L339 596.09 L339.4 596.12 L339.8 596.15 L340.2 596.17 L340.6 596.2 L341 596.22 L341.4 596.24 L341.8 596.26 L342.2 596.27 L342.6 596.28 L343 596.29 L343.4 596.3 L343.8 596.3 L344.2 596.3 L344.6 596.28 L345 596.25 L345.4 596.21 L345.8 596.15 L346.2 596.07 L346.6 595.98 L347 595.87 L347.4 595.75 L347.8 595.62 L348.2 595.47 L348.6 595.3 L349 594.96 L349.4 594.34 L349.8 593.55 L350.2 592.66 L350.6 591.78 L351 590.89 L351.4 589.92 L351.8 588.78 L352.2 587.42 L352.6 585.72 L353 583.04 L353.4 579.58 L353.8 575.89 L354.2 572.25 L354.6 568.34 L355 564.35 L355.4 560.44 L355.8 556.42 L356.2 552.57 L356.6 549.21 L357 546.2 L357.4 543.5 L357.8 541.2 L358.2 539.16 L358.6 537.51 L359 536.63 L359.4 536.06 L359.8 535.92 L360.2 536.35 L360.6 537.1 L361 538.07 L361.4 539.51 L361.8 541.2 L362.2 543.22 L362.5 545" stroke="#00ffff"/>
<path d="M89.8 588.6 L90.2 588.42 L90.6 588.23 L91 588.03 L91.4 587.82 L91.8 587.6 L92.2 587.37 L92.6 587.14 L93 586.9 L93.4 586.64 L93.8 586.37 L94.2 586.1 L94.6 585.82 L95 585.53 L95.4 585.24 L95.8 584.95 L96.2 584.65 L96.6 584.34 L97 584.01 L97.4 583.67 L97.8 583.33 L98.2 582.99 L98.6 582.65 L99 582.33 L99.4 582.02 L99.8 581.73 L100.2 581.47 L100.6 581.21 L101 580.94 L101.4 580.69 L101.8 580.44 L102.2 580.21 L102.6 579.99 L103 579.79 L103.4 579.61 L103.8 579.46 L104.2 579.34 L104.6 579.22 L105 579.11 L105.4 579.01 L105.8 578.92 L106.2 578.85 L106.6 578.81 L107 578.8 L107.4 578.82 L107.8 578.86 L108.2 578.92 L108.6 578.99 L109 579.07 L109.4 579.16 L109.8 579.25 L110.2 579.35 L110.6 579.46 L111 579.59 L111.4 579.75 L111.8 579.91 L112.2 580.09 L112.6 580.28 L113 580.48 L113.4 580.68 L113.8 580.89 L114.2 581.11 L114.6 581.34 L115 581.59 L115.4 581.86 L115.8 582.14 L116.2 582.44 L116.6 582.74 L117 583.06 L117.4 583.38 L117.8 583.7 L118.2 584.03 L118.6 584.36 L119 584.69 L119.4 585.02 L119.8 585.34 L120.2 585.66 L120.6 585.98 L121 586.31 L121.4 586.65 L121.8 586.99 L122.2 587.33 L122.6 587.68 L123 588.02 L123.4 588.37 L123.8 588.71 L124.2 589.05 L124.6 589.38 L125 589.71 L125.4 590.03 L125.8 590.35 L126.2 590.65 L126.6 590.96 L127 591.27 L127.4 591.59 L127.8 591.9 L128.2 592.21 L128.6 592.5 L129 592.79 L129.4 593.07 L129.8 593.33 L130.2 593.58 L130.6 593.8 L131 594 L131.4 594.19 L131.8 594.39 L132.2 594.58 L132.6 594.77 L133 594.96 L133.4 595.14 L133.8 595.3 L134.2 595.45 L134.6 595.57 L135 595.67 L135.4 595.75 L135.8 595.79 L136.2 595.8 L136.6 595.8 L137 595.78 L137.4 595.77 L137.8 595.75 L138.2 595.72 L138.6 595.69 L139 595.66 L139.4 595.62 L139.8 595.58 L140.2 595.53 L140.6 595.49 L141 595.44 L141.4 595.39 L141.8 595.33 L142.2 595.26 L142.6 595.17 L143 595.06 L143.4 594.94 L143.8 594.82 L144.2 594.68 L144.6 594.54 L145 594.39 L145.4 594.24 L145.8 594.09 L146.2 593.94 L146.6 593.79 L147 593.64 L147.4 593.5 L147.8 593.36 L148.2 593.2 L148.6 593.03 L149 592.86 L149.4 592.69 L149.8 592.52 L150.2 592.35 L150.6 592.18 L151 592.03 L151.4 591.89 L151.8 591.76 L152.2 591.65 L152.6 591.55 L153 591.46 L153.4 591.37 L153.8 591.28 L154.2 591.2 L154.6 591.12 L155 591.04 L155.4 590.97 L155.8 590.91 L156.2 590.87 L156.6 590.83 L157 590.81 L157.4 590.8 L157.8 590.81 L158.2 590.82 L158.6 590.85 L159 590.89 L159.4 590.93 L159.8 590.98 L160.2 591.04 L160.6 591.09 L161 591.15 L161.4 591.2 L161.8 591.26 L162.2 591.32 L162.6 591.4 L163 591.48 L163.4 591.57 L163.8 591.65 L164.2 591.74 L164.6 591.83 L165 591.92 L165.4 592.01 L165.8 592.09 L166.2 592.17 L166.6 592.23 L167 592.31 L167.4 592.38 L167.8 592.46 L168.2 592.54 L168.6 592.61 L169 592.69 L169.4 592.76 L169.8 592.83 L170.2 592.9 L170.6 592.95 L171 593 L171.4 593.04 L171.8 593.07 L172.2 593.09 L172.6 593.1 L173 593.08 L173.4 593.04 L173.8 592.96 L174.2 592.87 L174.6 592.76 L175 592.63 L175.4 592.49 L175.8 592.35 L176.2 592.2 L176.6 592.04 L177 591.85 L177.4 591.63 L177.8 591.39 L178.2 591.12 L178.6 590.82 L179 590.5 L179.4 590.16 L179.8 589.79 L180.2 589.39 L180.6 588.91 L181 588.36 L181.4 587.74 L181.8 587.08 L182.2 586.37 L182.6 585.62 L183 584.79 L183.4 583.89 L183.8 582.9 L184.2 581.84 L184.6 580.7 L185 579.49 L185.4 578.13 L185.8 576.62 L186.2 574.97 L186.6 573.21 L187 571.35 L187.4 569.27 L187.8 567.04 L188.2 564.69 L188.6 562.3 L189 559.86 L189.4 557.34 L189.8 554.72 L190.2 552.01 L190.6 549.18 L191 546.18 L191.4 543.04 L191.8 539.82 L192.2 536.6 L192.6 533.39 L193 530.13 L193.4 526.76 L193.8 523.19 L194.2 519.43 L194.6 515.52 L195 511.52 L195.4 507.43 L195.8 503.12 L196.2 498.73 L196.6 494.48 L197 490.56 L197.4 487.03 L197.8 483.68 L198.2 480.28 L198.6 476.65 L199 472.81 L199.4 468.89 L199.8 464.97 L200.2 461.1 L200.6 457.22 L201 453.37 L201.4 449.55 L201.8 445.74 L202.2 441.95 L202.6 438.19 L203 434.48 L203.4 430.85 L203.8 427.3 L204.2 423.81 L204.6 420.36 L205 416.97 L205.4 413.63 L205.8 410.33 L206.2 407.07 L206.6 403.75 L207 400.43 L207.4 397.19 L207.8 394.12 L208.2 391.29 L208.6 388.76 L209 386.37 L209.4 384.13 L209.8 382.12 L210.2 380.38 L210.6 378.9 L211 377.51 L211.4 376.28 L211.8 375.31 L212.2 374.66 L212.6 374.14 L213 373.69 L213.4 373.37 L213.8 373.21 L214.2 373.25 L214.6 373.46 L215 373.78 L215.4 374.17 L215.8 374.6 L216.2 375.13 L216.6 375.83 L217 376.66 L217.4 377.6 L217.8 378.6 L218.2 379.73 L218.6 381.05 L219 382.52 L219.4 384.09 L219.8 385.73 L220.2 387.49 L220.6 389.37 L221 391.37 L221.4 393.49 L221.8 395.74 L222.2 398.11 L222.6 400.67 L223 403.43 L223.4 406.37 L223.8 409.47 L224.2 412.71 L224.6 416.1 L225 419.81 L225.4 423.78 L225.8 427.83 L226.2 431.85 L226.6 435.92 L227 440.04 L227.4 444.16 L227.8 448.2 L228.2 452.18 L228.6 456.12 L229 460.06 L229.4 464.01 L229.8 467.95 L230.2 471.84 L230.6 475.77 L231 479.82 L231.4 484.1 L231.8 488.81 L232.2 493.69 L232.6 498.4 L233 502.68 L233.4 506.71 L233.8 510.63 L234.2 514.52 L234.6 518.52 L235 522.76 L235.4 527.06 L235.8 531.13 L236.2 534.7 L236.6 537.77 L237 540.58 L237.4 543.19 L237.8 545.66 L238.2 548.05 L238.6 550.41 L239 552.78 L239.4 555.12 L239.8 557.41 L240.2 559.61 L240.6 561.71 L241 563.68 L241.4 565.49 L241.8 567.21 L242.2 568.83 L242.6 570.38 L243 571.86 L243.4 573.26 L243.8 574.6 L244.2 575.9 L244.6 577.16 L245 578.37 L245.4 579.52 L245.8 580.58 L246.2 581.56 L246.6 582.42 L247 583.21 L247.4 583.94 L247.8 584.63 L248.2 585.27 L248.6 585.89 L249 586.5 L249.4 587.1 L249.8 587.68 L250.2 588.24 L250.6 588.78 L251 589.3 L251.4 589.8 L251.8 590.27 L252.2 590.72 L252.6 591.16 L253 591.6 L253.4 592.02 L253.8 592.42 L254.2 592.81 L254.6 593.18 L255 593.53 L255.4 593.84 L255.8 594.13 L256.2 594.4 L256.6 594.65 L257 594.88 L257.4 595.11 L257.8 595.31 L258.2 595.5 L258.6 595.66 L259 595.8 L259.4 595.93 L259.8 596.06 L260.2 596.18 L260.6 596.3 L261 596.4 L261.4 596.49 L261.8 596.55 L262.2 596.59 L262.6 596.6 L263 596.57 L263.4 596.51 L263.8 596.42 L264.2 596.3 L264.6 596.16 L265 596.01 L265.4 595.85 L265.8 595.68 L266.2 595.51 L266.6 595.29 L267 595.04 L267.4 594.74 L267.8 594.41 L268.2 594.06 L268.6 593.69 L269 593.3 L269.4 592.89 L269.8 592.43 L270.2 591.94 L270.6 591.4 L271 590.83 L271.4 590.22 L271.8 589.59 L272.2 588.94 L272.6 588.25 L273 587.52 L273.4 586.73 L273.8 585.89 L274.2 585.02 L274.6 584.11 L275 583.18 L275.4 582.22 L275.8 581.26 L276.2 580.26 L276.6 579.23 L277 578.16 L277.4 577.06 L277.8 575.93 L278.2 574.78 L278.6 573.6 L279 572.4 L279.4 571.17 L279.8 569.92 L280.2 568.63 L280.6 567.32 L281 565.97 L281.4 564.59 L281.8 563.18 L282.2 561.73 L282.6 560.26 L283 558.73 L283.4 557.16 L283.8 555.56 L284.2 553.91 L284.6 552.24 L285 550.53 L285.4 548.81 L285.8 547.06 L286.2 545.29 L286.6 543.48 L287 541.63 L287.4 539.76 L287.8 537.86 L288.2 535.93 L288.6 533.98 L289 532 L289.4 529.99 L289.8 527.93 L290.2 525.84 L290.6 523.72 L291 521.58 L291.4 519.43 L291.8 517.28 L292.2 515.13 L292.6 512.99 L293 510.82 L293.4 508.64 L293.8 506.45 L294.2 504.26 L294.6 502.09 L295 499.95 L295.4 497.84 L295.8 495.77 L296.2 493.74 L296.6 491.73 L297 489.74 L297.4 487.77 L297.8 485.82 L298.2 483.88 L298.6 481.95 L299 480.02 L299.4 478.09 L299.8 476.16 L300.2 474.24 L300.6 472.33 L301 470.45 L301.4 468.59 L301.8 466.77 L302.2 465 L302.6 463.26 L303 461.53 L303.4 459.84 L303.8 458.18 L304.2 456.56 L304.6 455 L305 453.5 L305.4 452.05 L305.8 450.62 L306.2 449.25 L306.6 447.92 L307 446.66 L307.4 445.48 L307.8 444.35 L308.2 443.21 L308.6 442.17 L309 441.29 L309.4 440.67 L309.8 440.13 L310.2 439.68 L310.6 439.38 L311 439.31 L311.4 439.49 L311.8 439.87 L312.2 440.37 L312.6 440.96 L313 441.89 L313.4 443.19 L313.8 444.7 L314.2 446.31 L314.6 448.16 L315 450.27 L315.4 452.6 L315.8 455.08 L316.2 457.66 L316.6 460.46 L317 463.5 L317.4 466.69 L317.8 469.95 L318.2 473.21 L318.6 476.54 L319 479.96 L319.4 483.43 L319.8 486.91 L320.2 490.36 L320.6 493.82 L321 497.29 L321.4 500.76 L321.8 504.22 L322.2 507.66 L322.6 511.12 L323 514.57 L323.4 518 L323.8 521.36 L324.2 524.62 L324.6 527.84 L325 531 L325.4 534.1 L325.8 537.12 L326.2 540.06 L326.6 542.93 L327 545.74 L327.4 548.49 L327.8 551.18 L328.2 553.82 L328.6 556.45 L329 559.05 L329.4 561.54 L329.8 563.89 L330.2 566.06 L330.6 568.1 L331 570.04 L331.4 571.88 L331.8 573.64 L332.2 575.35 L332.6 577 L333 578.59 L333.4 580.1 L333.8 581.53 L334.2 582.86 L334.6 584.13 L335 585.34 L335.4 586.47 L335.8 587.51 L336.2 588.47 L336.6 589.36 L337 590.2 L337.4 590.97 L337.8 591.68 L338.2 592.32 L338.6 592.94 L339 593.52 L339.4 594.03 L339.8 594.44 L340.2 594.74 L340.6 595.01 L341 595.24 L341.4 595.41 L341.8 595.5 L342.2 595.46 L342.6 595.32 L343 595.08 L343.4 594.8 L343.8 594.48 L344.2 594.12 L344.6 593.65 L345 593.07 L345.4 592.41 L345.8 591.69 L346.2 590.89 L346.6 589.96 L347 588.9 L347.4 587.74 L347.8 586.52 L348.2 585.22 L348.6 583.81 L349 582.28 L349.4 580.61 L349.8 578.78 L350.2 576.75 L350.6 574.42 L351 571.86 L351.4 569.11 L351.8 566.23 L352.2 563.16 L352.6 559.72 L353 556.1 L353.4 552.49 L353.8 549.1 L354.2 545.93 L354.6 542.86 L355 539.86 L355.4 536.91 L355.8 534 L356.2 531.09 L356.6 528.19 L357 525.35 L357.4 522.61 L357.8 520 L358.2 517.52 L358.6 515.14 L359 512.85 L359.4 510.64 L359.8 508.5 L360.2 506.43 L360.6 504.44 L361 502.5 L361.4 500.63 L361.8 498.8 L362.2 497.06 L362.5 495.8" stroke="#ff00ff"/>
</g>
<path d="M107.5 372.8 H133.3" stroke="#0000ff" stroke-width="3" stroke-linecap="round" fill="none"/>
<text x="137" y="376.8" font-size="11.8" font-weight="bold">300K</text>
<path d="M107.5 387.6 H133.3" stroke="#00ffff" stroke-width="3" stroke-linecap="round" fill="none"/>
<text x="137" y="391.6" font-size="11.8" font-weight="bold">600K</text>
<path d="M107.5 402.4 H133.3" stroke="#ff00ff" stroke-width="3" stroke-linecap="round" fill="none"/>
<text x="137" y="406.4" font-size="11.8" font-weight="bold">900K</text>
<text x="275.2" y="386.1" font-size="17" font-weight="bold">PtTiGe</text>
<text x="89.8" y="620.9" font-size="18.8" font-weight="bold" text-anchor="middle">-2</text>
<text x="157.97" y="620.9" font-size="18.8" font-weight="bold" text-anchor="middle">-1</text>
<text x="226.15" y="620.9" font-size="18.8" font-weight="bold" text-anchor="middle">0</text>
<text x="294.32" y="620.9" font-size="18.8" font-weight="bold" text-anchor="middle">1</text>
<text x="362.5" y="620.9" font-size="18.8" font-weight="bold" text-anchor="middle">2</text>
<text x="80.7" y="358.7" font-size="20.2" font-weight="bold" text-anchor="end">15</text>
<text x="80.7" y="439.2" font-size="20.2" font-weight="bold" text-anchor="end">10</text>
<text x="80.7" y="520.8" font-size="20.2" font-weight="bold" text-anchor="end">5</text>
<text x="80.7" y="602.8" font-size="20.2" font-weight="bold" text-anchor="end">0</text>
<text x="206.2" y="636.8" font-size="21.5" text-anchor="end">&#956;&#8211;</text>
<text y="636.8" font-size="19" font-weight="bold"><tspan x="206.3">E</tspan><tspan x="219.5" dy="3.5">F</tspan><tspan x="230.1 236.4 244.9 259.9" dy="-3.5" font-size="19.6">(eV)</tspan></text>
</g>
<g>
<clipPath id="cb2"><rect x="391.1" y="348.9" width="283.9" height="246.1"/></clipPath>
<path d="M462.27 593.05 v-6.7 M462.27 350.25 v6.7 M533.05 593.05 v-6.7 M533.05 350.25 v6.7 M603.83 593.05 v-6.7 M603.83 350.25 v6.7 M426.89 593.05 v-3 M426.89 350.25 v3 M497.66 593.05 v-3 M497.66 350.25 v3 M568.44 593.05 v-3 M568.44 350.25 v3 M639.21 593.05 v-3 M639.21 350.25 v3 M392.85 430.73 h7.7 M673.25 430.73 h-7.7 M392.85 512.57 h7.7 M673.25 512.57 h-7.7 M392.85 389.82 h2.8 M673.25 389.82 h-2.8 M392.85 471.65 h2.8 M673.25 471.65 h-2.8 M392.85 553.48 h2.8 M673.25 553.48 h-2.8" stroke="#000" stroke-width="2.85" fill="none"/>
<rect x="391.5" y="348.9" width="283.1" height="245.5" fill="none" stroke="#000" stroke-width="2.7"/>
<path d="M532.8 348.9 V356.9 M532.8 369.8 V383 M532.8 395.9 V409.1 M532.8 422 V435.2 M532.8 448.1 V461.3 M532.8 474.2 V487.4 M532.8 500.3 V513.5 M532.8 526.4 V539.6 M532.8 552.5 V565.7 M532.8 578.6 V591.8" stroke="#000" stroke-width="3" fill="none"/>
<g clip-path="url(#cb2)" fill="none" stroke-linejoin="round" stroke-linecap="butt" stroke-width="2.5">
<path d="M391.5 593.4 L391.9 593.3 L392.3 593.21 L392.7 593.11 L393.1 593.02 L393.5 592.92 L393.9 592.83 L394.3 592.74 L394.7 592.65 L395.1 592.56 L395.5 592.47 L395.9 592.38 L396.3 592.29 L396.7 592.2 L397.1 592.11 L397.5 592.02 L397.9 591.94 L398.3 591.85 L398.7 591.77 L399.1 591.69 L399.5 591.6 L399.9 591.52 L400.3 591.44 L400.7 591.35 L401.1 591.27 L401.5 591.19 L401.9 591.1 L402.3 591.01 L402.7 590.93 L403.1 590.84 L403.5 590.76 L403.9 590.68 L404.3 590.6 L404.7 590.52 L405.1 590.44 L405.5 590.37 L405.9 590.3 L406.3 590.23 L406.7 590.17 L407.1 590.11 L407.5 590.06 L407.9 590.01 L408.3 589.97 L408.7 589.92 L409.1 589.88 L409.5 589.83 L409.9 589.79 L410.3 589.74 L410.7 589.7 L411.1 589.66 L411.5 589.63 L411.9 589.6 L412.3 589.57 L412.7 589.54 L413.1 589.52 L413.5 589.51 L413.9 589.5 L414.3 589.5 L414.7 589.51 L415.1 589.53 L415.5 589.56 L415.9 589.6 L416.3 589.65 L416.7 589.71 L417.1 589.77 L417.5 589.84 L417.9 589.91 L418.3 589.98 L418.7 590.06 L419.1 590.13 L419.5 590.21 L419.9 590.28 L420.3 590.36 L420.7 590.44 L421.1 590.53 L421.5 590.63 L421.9 590.74 L422.3 590.85 L422.7 590.96 L423.1 591.08 L423.5 591.2 L423.9 591.33 L424.3 591.45 L424.7 591.58 L425.1 591.7 L425.5 591.82 L425.9 591.94 L426.3 592.06 L426.7 592.17 L427.1 592.28 L427.5 592.38 L427.9 592.48 L428.3 592.57 L428.7 592.66 L429.1 592.75 L429.5 592.85 L429.9 592.95 L430.3 593.04 L430.7 593.14 L431.1 593.23 L431.5 593.32 L431.9 593.41 L432.3 593.5 L432.7 593.58 L433.1 593.66 L433.5 593.73 L433.9 593.79 L434.3 593.85 L434.7 593.9 L435.1 593.94 L435.5 593.97 L435.9 594 L436.3 594.01 L436.7 594.03 L437.1 594.04 L437.5 594.05 L437.9 594.07 L438.3 594.08 L438.7 594.09 L439.1 594.1 L439.5 594.11 L439.9 594.12 L440.3 594.13 L440.7 594.14 L441.1 594.15 L441.5 594.16 L441.9 594.16 L442.3 594.17 L442.7 594.18 L443.1 594.18 L443.5 594.19 L443.9 594.19 L444.3 594.19 L444.7 594.2 L445.1 594.2 L445.5 594.2 L445.9 594.2 L446.3 594.2 L446.7 594.19 L447.1 594.18 L447.5 594.17 L447.9 594.15 L448.3 594.13 L448.7 594.1 L449.1 594.07 L449.5 594.04 L449.9 594.01 L450.3 593.97 L450.7 593.93 L451.1 593.89 L451.5 593.85 L451.9 593.8 L452.3 593.75 L452.7 593.71 L453.1 593.66 L453.5 593.61 L453.9 593.56 L454.3 593.51 L454.7 593.46 L455.1 593.41 L455.5 593.36 L455.9 593.31 L456.3 593.26 L456.7 593.2 L457.1 593.14 L457.5 593.07 L457.9 592.99 L458.3 592.92 L458.7 592.84 L459.1 592.76 L459.5 592.68 L459.9 592.61 L460.3 592.54 L460.7 592.47 L461.1 592.41 L461.5 592.35 L461.9 592.31 L462.3 592.27 L462.7 592.23 L463.1 592.2 L463.5 592.16 L463.9 592.13 L464.3 592.09 L464.7 592.07 L465.1 592.04 L465.5 592.02 L465.9 592.01 L466.3 592 L466.7 592 L467.1 592.03 L467.5 592.07 L467.9 592.13 L468.3 592.21 L468.7 592.29 L469.1 592.38 L469.5 592.48 L469.9 592.57 L470.3 592.66 L470.7 592.74 L471.1 592.82 L471.5 592.89 L471.9 592.97 L472.3 593.05 L472.7 593.13 L473.1 593.22 L473.5 593.3 L473.9 593.39 L474.3 593.47 L474.7 593.55 L475.1 593.63 L475.5 593.7 L475.9 593.77 L476.3 593.83 L476.7 593.89 L477.1 593.93 L477.5 593.97 L477.9 594 L478.3 594.01 L478.7 594.03 L479.1 594.05 L479.5 594.06 L479.9 594.08 L480.3 594.09 L480.7 594.11 L481.1 594.12 L481.5 594.13 L481.9 594.14 L482.3 594.15 L482.7 594.16 L483.1 594.17 L483.5 594.18 L483.9 594.18 L484.3 594.19 L484.7 594.19 L485.1 594.2 L485.5 594.2 L485.9 594.2 L486.3 594.2 L486.7 594.19 L487.1 594.17 L487.5 594.15 L487.9 594.12 L488.3 594.08 L488.7 594.04 L489.1 594 L489.5 593.96 L489.9 593.91 L490.3 593.86 L490.7 593.8 L491.1 593.73 L491.5 593.65 L491.9 593.55 L492.3 593.43 L492.7 593.3 L493.1 593.1 L493.5 592.81 L493.9 592.45 L494.3 592.04 L494.7 591.58 L495.1 591.12 L495.5 590.63 L495.9 590.08 L496.3 589.48 L496.7 588.82 L497.1 588.12 L497.5 587.38 L497.9 586.6 L498.3 585.73 L498.7 584.79 L499.1 583.8 L499.5 582.78 L499.9 581.75 L500.3 580.75 L500.7 579.74 L501.1 578.71 L501.5 577.67 L501.9 576.63 L502.3 575.61 L502.7 574.6 L503.1 573.59 L503.5 572.57 L503.9 571.55 L504.3 570.57 L504.7 569.64 L505.1 568.8 L505.5 568.02 L505.9 567.28 L506.3 566.58 L506.7 565.92 L507.1 565.31 L507.5 564.74 L507.9 564.21 L508.3 563.72 L508.7 563.25 L509.1 562.82 L509.5 562.4 L509.9 562 L510.3 561.6 L510.7 561.22 L511.1 560.85 L511.5 560.5 L511.9 560.16 L512.3 559.83 L512.7 559.52 L513.1 559.23 L513.5 558.95 L513.9 558.69 L514.3 558.43 L514.7 558.18 L515.1 557.94 L515.5 557.71 L515.9 557.48 L516.3 557.27 L516.7 557.05 L517.1 556.85 L517.5 556.65 L517.9 556.46 L518.3 556.28 L518.7 556.1 L519.1 555.93 L519.5 555.76 L519.9 555.59 L520.3 555.4 L520.7 555.2 L521.1 555 L521.5 554.79 L521.9 554.58 L522.3 554.36 L522.7 554.13 L523.1 553.88 L523.5 553.61 L523.9 553.33 L524.3 552.99 L524.7 552.62 L525.1 552.22 L525.5 551.8 L525.9 551.39 L526.3 551 L526.7 550.59 L527.1 550.17 L527.5 549.8 L527.9 549.54 L528.3 549.33 L528.7 549.21 L529.1 549.28 L529.5 549.58 L529.9 550 L530.3 550.72 L530.7 551.85 L531.1 553.17 L531.5 554.56 L531.9 556.19 L532.3 558.05 L532.7 560.16 L533.1 562.8 L533.5 565.77 L533.9 568.74 L534.3 571.82 L534.7 574.89 L535.1 577.65 L535.5 580.15 L535.9 582.45 L536.3 584.49 L536.7 586.42 L537.1 588.16 L537.5 589.5 L537.9 590.52 L538.3 591.42 L538.7 592.16 L539.1 592.76 L539.5 593.22 L539.9 593.63 L540.3 594 L540.7 594.29 L541.1 594.46 L541.5 594.52 L541.9 594.55 L542.3 594.57 L542.7 594.6 L543.1 594.63 L543.5 594.65 L543.9 594.67 L544.3 594.69 L544.7 594.7 L545.1 594.72 L545.5 594.73 L545.9 594.75 L546.3 594.76 L546.7 594.77 L547.1 594.77 L547.5 594.78 L547.9 594.79 L548.3 594.79 L548.7 594.8 L549.1 594.8 L549.5 594.8 L549.9 594.8 L550.3 594.8 L550.7 594.8 L551.1 594.8 L551.5 594.8 L551.9 594.8 L552.3 594.8 L552.7 594.8 L553.1 594.8 L553.5 594.8 L553.9 594.8 L554.3 594.8 L554.7 594.8 L555.1 594.8 L555.5 594.8 L555.9 594.8 L556.3 594.8 L556.7 594.8 L557.1 594.8 L557.5 594.8 L557.9 594.8 L558.3 594.8 L558.7 594.8 L559.1 594.8 L559.5 594.8 L559.9 594.8 L560.3 594.8 L560.7 594.8 L561.1 594.8 L561.5 594.8 L561.9 594.8 L562.3 594.8 L562.7 594.8 L563.1 594.8 L563.5 594.8 L563.9 594.8 L564.3 594.8 L564.7 594.8 L565.1 594.8 L565.5 594.8 L565.9 594.8 L566.3 594.8 L566.7 594.8 L567.1 594.8 L567.5 594.8 L567.9 594.8 L568.3 594.8 L568.7 594.8 L569.1 594.8 L569.5 594.8 L569.9 594.8 L570.3 594.8 L570.7 594.8 L571.1 594.79 L571.5 594.79 L571.9 594.78 L572.3 594.77 L572.7 594.76 L573.1 594.74 L573.5 594.73 L573.9 594.71 L574.3 594.69 L574.7 594.66 L575.1 594.64 L575.5 594.61 L575.9 594.59 L576.3 594.56 L576.7 594.52 L577.1 594.49 L577.5 594.45 L577.9 594.42 L578.3 594.38 L578.7 594.33 L579.1 594.29 L579.5 594.21 L579.9 594.09 L580.3 593.93 L580.7 593.74 L581.1 593.52 L581.5 593.27 L581.9 593 L582.3 592.72 L582.7 592.43 L583.1 592.12 L583.5 591.78 L583.9 591.39 L584.3 590.96 L584.7 590.47 L585.1 589.92 L585.5 589.33 L585.9 588.68 L586.3 587.97 L586.7 587.2 L587.1 586.3 L587.5 585.14 L587.9 583.77 L588.3 582.26 L588.7 580.68 L589.1 579.1 L589.5 577.4 L589.9 575.56 L590.3 573.65 L590.7 571.7 L591.1 569.79 L591.5 567.95 L591.9 566.12 L592.3 564.28 L592.7 562.47 L593.1 560.7 L593.5 559.01 L593.9 557.41 L594.3 555.83 L594.7 554.29 L595.1 552.81 L595.5 551.44 L595.9 550.23 L596.3 549.19 L596.7 548.21 L597.1 547.31 L597.5 546.55 L597.9 546 L598.3 545.64 L598.7 545.31 L599.1 545.05 L599.5 544.87 L599.9 544.8 L600.3 544.89 L600.7 545.14 L601.1 545.5 L601.5 545.92 L601.9 546.65 L602.3 547.68 L602.7 548.82 L603.1 550 L603.5 551.35 L603.9 552.83 L604.3 554.4 L604.7 556.09 L605.1 557.9 L605.5 559.81 L605.9 561.82 L606.3 563.97 L606.7 566.17 L607.1 568.34 L607.5 570.6 L607.9 572.84 L608.3 574.86 L608.7 576.54 L609.1 578.04 L609.5 579.39 L609.9 580.59 L610.3 581.68 L610.7 582.66 L611.1 583.51 L611.5 584.23 L611.9 584.85 L612.3 585.41 L612.7 585.93 L613.1 586.38 L613.5 586.8 L613.9 587.27 L614.3 587.83 L614.7 588.49 L615.1 589.21 L615.5 590.04 L615.9 591.01 L616.3 591.91 L616.7 592.67 L617.1 593.36 L617.5 593.8 L617.9 594.02 L618.3 594.16 L618.7 594.18 L619.1 593.66 L619.5 592.75 L619.9 591.42 L620.3 589.37 L620.7 587.22 L621.1 584.9 L621.5 582.5 L621.9 580.12 L622.3 577.7 L622.7 575.22 L623.1 572.7 L623.5 570.45 L623.9 568.1 L624.3 566.9 L624.7 567.11 L625.1 567.79 L625.5 570.95 L625.9 577.06 L626.3 584.72 L626.7 591.12 L627.1 593.67 L627.5 594.27 L627.9 591.87 L628.3 585.63 L628.7 574.55 L629.1 564.46 L629.5 554.21 L629.9 545.4 L630.3 538.69 L630.7 532.88 L631.1 527.05 L631.5 521.28 L631.9 516.2 L632.3 511.59 L632.7 508 L633.1 505.23 L633.5 503.49 L633.9 504.05 L634.3 506.23 L634.7 508.96 L635.1 512.86 L635.5 517.4 L635.9 522.6 L636.3 528.19 L636.7 533.3 L637.1 538.19 L637.5 542.67 L637.9 546.71 L638.3 550.5 L638.7 554.26 L639.1 557.73 L639.5 560.63 L639.9 563.18 L640.3 565.5 L640.7 567.68 L641.1 569.7 L641.5 571.5 L641.9 573.09 L642.3 574.51 L642.7 575.8 L643.1 577.02 L643.5 578.13 L643.9 579 L644.3 579.69 L644.7 580.27 L645.1 580.6 L645.5 580.75 L645.9 580.86 L646.3 580.9 L646.7 580.72 L647.1 580.28 L647.5 579.73 L647.9 579.14 L648.3 578.37 L648.7 577.52 L649.1 576.68 L649.5 575.79 L649.9 574.88 L650.3 573.97 L650.7 573 L651.1 572.07 L651.5 571.34 L651.9 570.71 L652.3 570.21 L652.7 569.96 L653.1 569.82 L653.5 569.72 L653.9 569.71 L654.3 569.95 L654.7 570.37 L655.1 570.85 L655.5 571.5 L655.9 572.29 L656.3 573.22 L656.7 574.35 L657.1 575.58 L657.5 576.8 L657.9 578.08 L658.3 579.38 L658.7 580.61 L659.1 581.73 L659.5 582.79 L659.9 583.79 L660.3 584.73 L660.7 585.61 L661.1 586.45 L661.5 587.22 L661.9 587.93 L662.3 588.59 L662.7 589.19 L663.1 589.73 L663.5 590.2 L663.9 590.62 L664.3 591.01 L664.7 591.38 L665.1 591.75 L665.5 592.08 L665.9 592.35 L666.3 592.56 L666.7 592.76 L667.1 592.92 L667.5 593 L667.9 592.98 L668.3 592.92 L668.7 592.82 L669.1 592.7 L669.5 592.52 L669.9 592.25 L670.3 591.94 L670.7 591.62 L671.1 591.28 L671.5 590.9 L671.9 590.5 L672.3 590.1 L672.7 589.69 L673.1 589.27 L673.5 588.84 L673.9 588.4 L674.3 587.95 L674.6 587.6" stroke="#0000ff"/>
<path d="M391.5 591.5 L391.9 591.23 L392.3 590.96 L392.7 590.69 L393.1 590.42 L393.5 590.14 L393.9 589.87 L394.3 589.59 L394.7 589.32 L395.1 589.04 L395.5 588.76 L395.9 588.48 L396.3 588.2 L396.7 587.92 L397.1 587.64 L397.5 587.36 L397.9 587.07 L398.3 586.78 L398.7 586.49 L399.1 586.19 L399.5 585.89 L399.9 585.58 L400.3 585.28 L400.7 584.97 L401.1 584.66 L401.5 584.36 L401.9 584.06 L402.3 583.77 L402.7 583.48 L403.1 583.2 L403.5 582.93 L403.9 582.66 L404.3 582.41 L404.7 582.15 L405.1 581.88 L405.5 581.61 L405.9 581.35 L406.3 581.09 L406.7 580.85 L407.1 580.62 L407.5 580.4 L407.9 580.2 L408.3 580.03 L408.7 579.89 L409.1 579.77 L409.5 579.67 L409.9 579.57 L410.3 579.47 L410.7 579.37 L411.1 579.28 L411.5 579.19 L411.9 579.11 L412.3 579.04 L412.7 578.98 L413.1 578.92 L413.5 578.88 L413.9 578.84 L414.3 578.81 L414.7 578.8 L415.1 578.8 L415.5 578.82 L415.9 578.85 L416.3 578.9 L416.7 578.97 L417.1 579.04 L417.5 579.13 L417.9 579.22 L418.3 579.32 L418.7 579.43 L419.1 579.54 L419.5 579.66 L419.9 579.77 L420.3 579.89 L420.7 580.04 L421.1 580.2 L421.5 580.39 L421.9 580.59 L422.3 580.81 L422.7 581.04 L423.1 581.28 L423.5 581.53 L423.9 581.79 L424.3 582.06 L424.7 582.32 L425.1 582.6 L425.5 582.87 L425.9 583.13 L426.3 583.4 L426.7 583.69 L427.1 583.99 L427.5 584.31 L427.9 584.63 L428.3 584.96 L428.7 585.3 L429.1 585.64 L429.5 585.98 L429.9 586.32 L430.3 586.66 L430.7 586.99 L431.1 587.31 L431.5 587.63 L431.9 587.93 L432.3 588.22 L432.7 588.52 L433.1 588.81 L433.5 589.11 L433.9 589.41 L434.3 589.71 L434.7 590 L435.1 590.28 L435.5 590.56 L435.9 590.83 L436.3 591.08 L436.7 591.32 L437.1 591.55 L437.5 591.76 L437.9 591.95 L438.3 592.13 L438.7 592.32 L439.1 592.5 L439.5 592.69 L439.9 592.87 L440.3 593.05 L440.7 593.21 L441.1 593.37 L441.5 593.52 L441.9 593.65 L442.3 593.76 L442.7 593.86 L443.1 593.93 L443.5 593.98 L443.9 594 L444.3 594 L444.7 593.99 L445.1 593.98 L445.5 593.97 L445.9 593.95 L446.3 593.93 L446.7 593.9 L447.1 593.87 L447.5 593.84 L447.9 593.81 L448.3 593.77 L448.7 593.74 L449.1 593.7 L449.5 593.65 L449.9 593.61 L450.3 593.56 L450.7 593.49 L451.1 593.41 L451.5 593.31 L451.9 593.2 L452.3 593.08 L452.7 592.95 L453.1 592.81 L453.5 592.67 L453.9 592.52 L454.3 592.38 L454.7 592.23 L455.1 592.09 L455.5 591.96 L455.9 591.83 L456.3 591.71 L456.7 591.58 L457.1 591.45 L457.5 591.31 L457.9 591.17 L458.3 591.03 L458.7 590.9 L459.1 590.76 L459.5 590.63 L459.9 590.5 L460.3 590.39 L460.7 590.28 L461.1 590.18 L461.5 590.09 L461.9 590.02 L462.3 589.95 L462.7 589.89 L463.1 589.83 L463.5 589.76 L463.9 589.71 L464.3 589.65 L464.7 589.61 L465.1 589.57 L465.5 589.54 L465.9 589.51 L466.3 589.5 L466.7 589.5 L467.1 589.52 L467.5 589.55 L467.9 589.6 L468.3 589.66 L468.7 589.73 L469.1 589.81 L469.5 589.89 L469.9 589.97 L470.3 590.06 L470.7 590.14 L471.1 590.22 L471.5 590.31 L471.9 590.42 L472.3 590.53 L472.7 590.66 L473.1 590.79 L473.5 590.93 L473.9 591.07 L474.3 591.2 L474.7 591.33 L475.1 591.45 L475.5 591.55 L475.9 591.65 L476.3 591.72 L476.7 591.77 L477.1 591.81 L477.5 591.83 L477.9 591.85 L478.3 591.87 L478.7 591.89 L479.1 591.91 L479.5 591.93 L479.9 591.95 L480.3 591.96 L480.7 591.97 L481.1 591.98 L481.5 591.99 L481.9 592 L482.3 592 L482.7 592 L483.1 591.97 L483.5 591.89 L483.9 591.77 L484.3 591.61 L484.7 591.43 L485.1 591.21 L485.5 590.99 L485.9 590.75 L486.3 590.52 L486.7 590.28 L487.1 590.03 L487.5 589.75 L487.9 589.45 L488.3 589.11 L488.7 588.74 L489.1 588.34 L489.5 587.89 L489.9 587.4 L490.3 586.86 L490.7 586.17 L491.1 585.33 L491.5 584.36 L491.9 583.28 L492.3 582.12 L492.7 580.92 L493.1 579.69 L493.5 578.33 L493.9 576.84 L494.3 575.24 L494.7 573.57 L495.1 571.86 L495.5 570.13 L495.9 568.32 L496.3 566.44 L496.7 564.51 L497.1 562.55 L497.5 560.58 L497.9 558.62 L498.3 556.63 L498.7 554.63 L499.1 552.61 L499.5 550.57 L499.9 548.53 L500.3 546.49 L500.7 544.43 L501.1 542.35 L501.5 540.27 L501.9 538.19 L502.3 536.13 L502.7 534.09 L503.1 532.09 L503.5 530.11 L503.9 528.13 L504.3 526.16 L504.7 524.19 L505.1 522.2 L505.5 520.2 L505.9 518.18 L506.3 516.17 L506.7 514.14 L507.1 512.12 L507.5 510.1 L507.9 508.08 L508.3 506.06 L508.7 504.03 L509.1 502 L509.5 499.99 L509.9 497.99 L510.3 496.01 L510.7 493.99 L511.1 491.97 L511.5 489.98 L511.9 488.04 L512.3 486.2 L512.7 484.48 L513.1 482.85 L513.5 481.27 L513.9 479.76 L514.3 478.33 L514.7 476.97 L515.1 475.69 L515.5 474.49 L515.9 473.36 L516.3 472.28 L516.7 471.25 L517.1 470.25 L517.5 469.26 L517.9 468.3 L518.3 467.39 L518.7 466.57 L519.1 465.85 L519.5 465.17 L519.9 464.54 L520.3 463.97 L520.7 463.49 L521.1 463.11 L521.5 462.76 L521.9 462.43 L522.3 462.16 L522.7 461.97 L523.1 461.9 L523.5 461.96 L523.9 462.13 L524.3 462.37 L524.7 462.68 L525.1 463.02 L525.5 463.4 L525.9 463.92 L526.3 464.58 L526.7 465.36 L527.1 466.23 L527.5 467.16 L527.9 468.18 L528.3 469.4 L528.7 470.77 L529.1 472.28 L529.5 473.89 L529.9 475.57 L530.3 477.33 L530.7 479.26 L531.1 481.33 L531.5 483.51 L531.9 485.78 L532.3 488.12 L532.7 490.5 L533.1 492.99 L533.5 495.6 L533.9 498.3 L534.3 501.07 L534.7 503.88 L535.1 506.71 L535.5 509.62 L535.9 512.6 L536.3 515.63 L536.7 518.67 L537.1 521.71 L537.5 524.7 L537.9 527.67 L538.3 530.65 L538.7 533.62 L539.1 536.56 L539.5 539.46 L539.9 542.3 L540.3 545.09 L540.7 547.88 L541.1 550.64 L541.5 553.34 L541.9 555.94 L542.3 558.42 L542.7 560.75 L543.1 563.01 L543.5 565.18 L543.9 567.27 L544.3 569.26 L544.7 571.15 L545.1 572.94 L545.5 574.65 L545.9 576.31 L546.3 577.89 L546.7 579.38 L547.1 580.75 L547.5 582 L547.9 583.14 L548.3 584.2 L548.7 585.2 L549.1 586.13 L549.5 587 L549.9 587.81 L550.3 588.58 L550.7 589.34 L551.1 590.07 L551.5 590.74 L551.9 591.33 L552.3 591.81 L552.7 592.17 L553.1 592.5 L553.5 592.8 L553.9 593.08 L554.3 593.33 L554.7 593.55 L555.1 593.73 L555.5 593.88 L555.9 593.98 L556.3 594.05 L556.7 594.12 L557.1 594.19 L557.5 594.25 L557.9 594.3 L558.3 594.36 L558.7 594.4 L559.1 594.45 L559.5 594.48 L559.9 594.52 L560.3 594.55 L560.7 594.57 L561.1 594.58 L561.5 594.6 L561.9 594.6 L562.3 594.6 L562.7 594.59 L563.1 594.57 L563.5 594.54 L563.9 594.51 L564.3 594.47 L564.7 594.42 L565.1 594.36 L565.5 594.3 L565.9 594.23 L566.3 594.16 L566.7 594.08 L567.1 594 L567.5 593.91 L567.9 593.82 L568.3 593.71 L568.7 593.54 L569.1 593.33 L569.5 593.07 L569.9 592.79 L570.3 592.49 L570.7 592.18 L571.1 591.88 L571.5 591.57 L571.9 591.25 L572.3 590.92 L572.7 590.57 L573.1 590.19 L573.5 589.79 L573.9 589.37 L574.3 588.92 L574.7 588.44 L575.1 587.92 L575.5 587.37 L575.9 586.77 L576.3 586.12 L576.7 585.41 L577.1 584.63 L577.5 583.78 L577.9 582.77 L578.3 581.59 L578.7 580.28 L579.1 578.87 L579.5 577.38 L579.9 575.84 L580.3 574.28 L580.7 572.72 L581.1 571.09 L581.5 569.4 L581.9 567.64 L582.3 565.82 L582.7 563.94 L583.1 562 L583.5 560.01 L583.9 557.97 L584.3 555.81 L584.7 553.57 L585.1 551.25 L585.5 548.87 L585.9 546.46 L586.3 544.03 L586.7 541.6 L587.1 539.19 L587.5 536.76 L587.9 534.31 L588.3 531.83 L588.7 529.32 L589.1 526.79 L589.5 524.21 L589.9 521.6 L590.3 518.91 L590.7 516.13 L591.1 513.31 L591.5 510.49 L591.9 507.7 L592.3 505 L592.7 502.32 L593.1 499.62 L593.5 496.97 L593.9 494.42 L594.3 492.04 L594.7 489.88 L595.1 487.81 L595.5 485.83 L595.9 484.02 L596.3 482.46 L596.7 481.21 L597.1 480.04 L597.5 478.94 L597.9 478.03 L598.3 477.45 L598.7 477.32 L599.1 477.71 L599.5 478.51 L599.9 479.56 L600.3 480.71 L600.7 481.97 L601.1 483.59 L601.5 485.49 L601.9 487.6 L602.3 489.83 L602.7 492.21 L603.1 494.89 L603.5 497.81 L603.9 500.87 L604.3 503.96 L604.7 507 L605.1 509.99 L605.5 513.01 L605.9 516.07 L606.3 519.16 L606.7 522.31 L607.1 525.51 L607.5 528.82 L607.9 532.23 L608.3 535.66 L608.7 539.07 L609.1 542.39 L609.5 545.59 L609.9 548.79 L610.3 551.95 L610.7 555.03 L611.1 557.99 L611.5 560.78 L611.9 563.38 L612.3 565.85 L612.7 568.21 L613.1 570.44 L613.5 572.54 L613.9 574.5 L614.3 576.31 L614.7 578.02 L615.1 579.63 L615.5 581.17 L615.9 582.66 L616.3 584.13 L616.7 585.64 L617.1 587.25 L617.5 588.83 L617.9 590.28 L618.3 591.48 L618.7 592.3 L619.1 592.88 L619.5 593.41 L619.9 593.87 L620.3 594.22 L620.7 594.44 L621.1 594.5 L621.5 594.52 L621.9 594.54 L622.3 594.55 L622.7 594.56 L623.1 594.57 L623.5 594.58 L623.9 594.58 L624.3 594.59 L624.7 594.59 L625.1 594.6 L625.5 594.6 L625.9 594.6 L626.3 594.49 L626.7 594 L627.1 593.16 L627.5 592 L627.9 588.17 L628.3 581.64 L628.7 574.41 L629.1 565.92 L629.5 558.51 L629.9 552.01 L630.3 545.2 L630.7 537.7 L631.1 531.42 L631.5 525.9 L631.9 520.39 L632.3 514.2 L632.7 507.44 L633.1 500.46 L633.5 493.53 L633.9 486.46 L634.3 479.62 L634.7 472.89 L635.1 466.95 L635.5 463.68 L635.9 461.34 L636.3 460.76 L636.7 461.95 L637.1 463.98 L637.5 465.96 L637.9 467.93 L638.3 470.07 L638.7 472.33 L639.1 474.69 L639.5 477.15 L639.9 479.79 L640.3 482.55 L640.7 485.32 L641.1 488.06 L641.5 490.84 L641.9 493.59 L642.3 496.2 L642.7 498.72 L643.1 501.16 L643.5 503.45 L643.9 505.49 L644.3 507.46 L644.7 509.27 L645.1 510.75 L645.5 511.76 L645.9 512.57 L646.3 513.26 L646.7 513.84 L647.1 514.35 L647.5 514.8 L647.9 515.19 L648.3 515.52 L648.7 515.82 L649.1 516.11 L649.5 516.4 L649.9 516.68 L650.3 516.94 L650.7 517.2 L651.1 517.51 L651.5 517.91 L651.9 518.48 L652.3 519.19 L652.7 519.99 L653.1 520.85 L653.5 521.83 L653.9 522.93 L654.3 524.17 L654.7 525.65 L655.1 527.46 L655.5 529.35 L655.9 531.12 L656.3 532.88 L656.7 534.65 L657.1 536.45 L657.5 538.29 L657.9 540.16 L658.3 542.03 L658.7 543.92 L659.1 545.82 L659.5 547.71 L659.9 549.56 L660.3 551.37 L660.7 553.17 L661.1 554.91 L661.5 556.59 L661.9 558.21 L662.3 559.78 L662.7 561.31 L663.1 562.75 L663.5 564.1 L663.9 565.36 L664.3 566.57 L664.7 567.7 L665.1 568.76 L665.5 569.74 L665.9 570.68 L666.3 571.58 L666.7 572.4 L667.1 573.1 L667.5 573.67 L667.9 574.18 L668.3 574.62 L668.7 575 L669.1 575.3 L669.5 575.55 L669.9 575.78 L670.3 575.98 L670.7 576.13 L671.1 576.22 L671.5 576.29 L671.9 576.36 L672.3 576.42 L672.7 576.47 L673.1 576.52 L673.5 576.56 L673.9 576.58 L674.3 576.6 L674.6 576.6" stroke="#00ffff"/>
<path d="M391.5 589.5 L391.9 589.13 L392.3 588.76 L392.7 588.38 L393.1 588 L393.5 587.6 L393.9 587.2 L394.3 586.8 L394.7 586.38 L395.1 585.97 L395.5 585.54 L395.9 585.11 L396.3 584.67 L396.7 584.22 L397.1 583.75 L397.5 583.28 L397.9 582.79 L398.3 582.3 L398.7 581.81 L399.1 581.31 L399.5 580.82 L399.9 580.33 L400.3 579.84 L400.7 579.36 L401.1 578.88 L401.5 578.41 L401.9 577.93 L402.3 577.45 L402.7 576.97 L403.1 576.49 L403.5 576.01 L403.9 575.54 L404.3 575.08 L404.7 574.62 L405.1 574.17 L405.5 573.73 L405.9 573.3 L406.3 572.88 L406.7 572.46 L407.1 572.02 L407.5 571.6 L407.9 571.18 L408.3 570.78 L408.7 570.4 L409.1 570.05 L409.5 569.73 L409.9 569.46 L410.3 569.22 L410.7 568.98 L411.1 568.74 L411.5 568.51 L411.9 568.29 L412.3 568.09 L412.7 567.92 L413.1 567.78 L413.5 567.68 L413.9 567.61 L414.3 567.6 L414.7 567.62 L415.1 567.66 L415.5 567.72 L415.9 567.8 L416.3 567.89 L416.7 568 L417.1 568.11 L417.5 568.24 L417.9 568.37 L418.3 568.51 L418.7 568.71 L419.1 568.96 L419.5 569.25 L419.9 569.56 L420.3 569.91 L420.7 570.27 L421.1 570.65 L421.5 571.03 L421.9 571.41 L422.3 571.79 L422.7 572.2 L423.1 572.63 L423.5 573.08 L423.9 573.55 L424.3 574.03 L424.7 574.53 L425.1 575.04 L425.5 575.55 L425.9 576.07 L426.3 576.59 L426.7 577.11 L427.1 577.63 L427.5 578.16 L427.9 578.7 L428.3 579.25 L428.7 579.82 L429.1 580.39 L429.5 580.96 L429.9 581.53 L430.3 582.1 L430.7 582.66 L431.1 583.21 L431.5 583.75 L431.9 584.27 L432.3 584.78 L432.7 585.29 L433.1 585.8 L433.5 586.31 L433.9 586.81 L434.3 587.31 L434.7 587.8 L435.1 588.27 L435.5 588.73 L435.9 589.18 L436.3 589.6 L436.7 590.01 L437.1 590.39 L437.5 590.77 L437.9 591.15 L438.3 591.52 L438.7 591.87 L439.1 592.22 L439.5 592.54 L439.9 592.84 L440.3 593.11 L440.7 593.34 L441.1 593.55 L441.5 593.75 L441.9 593.94 L442.3 594.13 L442.7 594.3 L443.1 594.44 L443.5 594.54 L443.9 594.59 L444.3 594.6 L444.7 594.58 L445.1 594.55 L445.5 594.5 L445.9 594.44 L446.3 594.37 L446.7 594.29 L447.1 594.21 L447.5 594.12 L447.9 594.02 L448.3 593.92 L448.7 593.78 L449.1 593.61 L449.5 593.42 L449.9 593.2 L450.3 592.97 L450.7 592.72 L451.1 592.47 L451.5 592.21 L451.9 591.96 L452.3 591.71 L452.7 591.47 L453.1 591.24 L453.5 591.02 L453.9 590.79 L454.3 590.55 L454.7 590.31 L455.1 590.07 L455.5 589.84 L455.9 589.6 L456.3 589.37 L456.7 589.15 L457.1 588.94 L457.5 588.74 L457.9 588.55 L458.3 588.36 L458.7 588.18 L459.1 588 L459.5 587.82 L459.9 587.65 L460.3 587.48 L460.7 587.32 L461.1 587.18 L461.5 587.05 L461.9 586.94 L462.3 586.84 L462.7 586.76 L463.1 586.69 L463.5 586.62 L463.9 586.55 L464.3 586.49 L464.7 586.43 L465.1 586.38 L465.5 586.34 L465.9 586.32 L466.3 586.3 L466.7 586.3 L467.1 586.31 L467.5 586.34 L467.9 586.37 L468.3 586.41 L468.7 586.46 L469.1 586.52 L469.5 586.57 L469.9 586.63 L470.3 586.7 L470.7 586.76 L471.1 586.82 L471.5 586.89 L471.9 586.98 L472.3 587.08 L472.7 587.19 L473.1 587.3 L473.5 587.4 L473.9 587.48 L474.3 587.55 L474.7 587.59 L475.1 587.6 L475.5 587.6 L475.9 587.6 L476.3 587.6 L476.7 587.6 L477.1 587.6 L477.5 587.6 L477.9 587.6 L478.3 587.6 L478.7 587.6 L479.1 587.6 L479.5 587.54 L479.9 587.43 L480.3 587.27 L480.7 587.06 L481.1 586.84 L481.5 586.6 L481.9 586.36 L482.3 586.11 L482.7 585.83 L483.1 585.51 L483.5 585.15 L483.9 584.77 L484.3 584.36 L484.7 583.93 L485.1 583.49 L485.5 583.02 L485.9 582.52 L486.3 581.98 L486.7 581.39 L487.1 580.73 L487.5 580 L487.9 579.16 L488.3 578.14 L488.7 576.94 L489.1 575.6 L489.5 574.16 L489.9 572.65 L490.3 571.11 L490.7 569.47 L491.1 567.7 L491.5 565.81 L491.9 563.83 L492.3 561.75 L492.7 559.6 L493.1 557.32 L493.5 554.89 L493.9 552.33 L494.3 549.68 L494.7 546.96 L495.1 544.19 L495.5 541.39 L495.9 538.5 L496.3 535.53 L496.7 532.49 L497.1 529.4 L497.5 526.27 L497.9 523.11 L498.3 519.89 L498.7 516.61 L499.1 513.28 L499.5 509.92 L499.9 506.54 L500.3 503.15 L500.7 499.71 L501.1 496.21 L501.5 492.69 L501.9 489.19 L502.3 485.75 L502.7 482.4 L503.1 479.14 L503.5 475.93 L503.9 472.77 L504.3 469.65 L504.7 466.56 L505.1 463.5 L505.5 460.49 L505.9 457.54 L506.3 454.62 L506.7 451.7 L507.1 448.76 L507.5 445.76 L507.9 442.69 L508.3 439.55 L508.7 436.38 L509.1 433.18 L509.5 429.98 L509.9 426.79 L510.3 423.61 L510.7 420.41 L511.1 417.2 L511.5 414.01 L511.9 410.86 L512.3 407.76 L512.7 404.72 L513.1 401.67 L513.5 398.65 L513.9 395.69 L514.3 392.85 L514.7 390.15 L515.1 387.59 L515.5 385.12 L515.9 382.76 L516.3 380.55 L516.7 378.5 L517.1 376.59 L517.5 374.78 L517.9 373.08 L518.3 371.54 L518.7 370.17 L519.1 368.86 L519.5 367.64 L519.9 366.58 L520.3 365.76 L520.7 365.16 L521.1 364.61 L521.5 364.14 L521.9 363.82 L522.3 363.7 L522.7 363.81 L523.1 364.09 L523.5 364.51 L523.9 365 L524.3 365.54 L524.7 366.29 L525.1 367.27 L525.5 368.42 L525.9 369.68 L526.3 371.05 L526.7 372.68 L527.1 374.51 L527.5 376.47 L527.9 378.5 L528.3 380.68 L528.7 383.06 L529.1 385.54 L529.5 388.05 L529.9 390.5 L530.3 392.88 L530.7 395.25 L531.1 397.67 L531.5 400.18 L531.9 402.86 L532.3 405.66 L532.7 408.59 L533.1 411.64 L533.5 414.8 L533.9 418.1 L534.3 421.55 L534.7 425.12 L535.1 428.75 L535.5 432.42 L535.9 436.19 L536.3 440.04 L536.7 443.93 L537.1 447.79 L537.5 451.59 L537.9 455.34 L538.3 459.08 L538.7 462.81 L539.1 466.56 L539.5 470.36 L539.9 474.24 L540.3 478.11 L540.7 481.88 L541.1 485.48 L541.5 488.86 L541.9 492.12 L542.3 495.35 L542.7 498.65 L543.1 502.12 L543.5 505.72 L543.9 509.33 L544.3 512.83 L544.7 516.11 L545.1 519.22 L545.5 522.23 L545.9 525.22 L546.3 528.27 L546.7 531.43 L547.1 534.56 L547.5 537.5 L547.9 540.22 L548.3 542.84 L548.7 545.35 L549.1 547.79 L549.5 550.17 L549.9 552.5 L550.3 554.81 L550.7 557.08 L551.1 559.3 L551.5 561.47 L551.9 563.55 L552.3 565.54 L552.7 567.44 L553.1 569.27 L553.5 571.06 L553.9 572.78 L554.3 574.45 L554.7 576.04 L555.1 577.56 L555.5 579 L555.9 580.38 L556.3 581.73 L556.7 583.03 L557.1 584.28 L557.5 585.47 L557.9 586.59 L558.3 587.64 L558.7 588.6 L559.1 589.51 L559.5 590.39 L559.9 591.2 L560.3 591.91 L560.7 592.48 L561.1 592.95 L561.5 593.39 L561.9 593.76 L562.3 593.97 L562.7 593.98 L563.1 593.83 L563.5 593.56 L563.9 593.2 L564.3 592.8 L564.7 592.37 L565.1 591.77 L565.5 591.03 L565.9 590.18 L566.3 589.27 L566.7 588.31 L567.1 587.21 L567.5 585.98 L567.9 584.67 L568.3 583.31 L568.7 581.87 L569.1 580.36 L569.5 578.78 L569.9 577.14 L570.3 575.45 L570.7 573.72 L571.1 571.95 L571.5 570.14 L571.9 568.25 L572.3 566.31 L572.7 564.3 L573.1 562.25 L573.5 560.16 L573.9 558.04 L574.3 555.9 L574.7 553.72 L575.1 551.49 L575.5 549.22 L575.9 546.91 L576.3 544.56 L576.7 542.19 L577.1 539.8 L577.5 537.4 L577.9 534.94 L578.3 532.43 L578.7 529.88 L579.1 527.32 L579.5 524.77 L579.9 522.23 L580.3 519.73 L580.7 517.28 L581.1 514.87 L581.5 512.48 L581.9 510.11 L582.3 507.75 L582.7 505.4 L583.1 503.05 L583.5 500.69 L583.9 498.31 L584.3 495.91 L584.7 493.5 L585.1 491.08 L585.5 488.68 L585.9 486.3 L586.3 483.96 L586.7 481.66 L587.1 479.42 L587.5 477.19 L587.9 475 L588.3 472.83 L588.7 470.69 L589.1 468.59 L589.5 466.53 L589.9 464.5 L590.3 462.49 L590.7 460.47 L591.1 458.48 L591.5 456.52 L591.9 454.63 L592.3 452.81 L592.7 451.1 L593.1 449.51 L593.5 447.97 L593.9 446.47 L594.3 445.07 L594.7 443.81 L595.1 442.73 L595.5 441.8 L595.9 440.85 L596.3 440.02 L596.7 439.43 L597.1 439.2 L597.5 439.4 L597.9 439.93 L598.3 440.69 L598.7 441.56 L599.1 442.49 L599.5 443.71 L599.9 445.22 L600.3 446.92 L600.7 448.74 L601.1 450.68 L601.5 452.9 L601.9 455.34 L602.3 457.93 L602.7 460.61 L603.1 463.32 L603.5 466.06 L603.9 468.92 L604.3 471.87 L604.7 474.9 L605.1 477.99 L605.5 481.1 L605.9 484.29 L606.3 487.58 L606.7 490.93 L607.1 494.28 L607.5 497.58 L607.9 500.79 L608.3 503.95 L608.7 507.06 L609.1 510.14 L609.5 513.2 L609.9 516.23 L610.3 519.25 L610.7 522.28 L611.1 525.28 L611.5 528.27 L611.9 531.21 L612.3 534.09 L612.7 536.9 L613.1 539.69 L613.5 542.45 L613.9 545.14 L614.3 547.76 L614.7 550.28 L615.1 552.69 L615.5 555.02 L615.9 557.23 L616.3 559.31 L616.7 561.24 L617.1 563.08 L617.5 564.75 L617.9 566.23 L618.3 567.64 L618.7 568.84 L619.1 569.68 L619.5 570.37 L619.9 570.87 L620.3 570.99 L620.7 570.78 L621.1 570.37 L621.5 569.85 L621.9 568.94 L622.3 567.65 L622.7 566.03 L623.1 563.87 L623.5 561.32 L623.9 558.12 L624.3 554.7 L624.7 551.45 L625.1 548.15 L625.5 544.63 L625.9 540.82 L626.3 536.75 L626.7 532.44 L627.1 527.8 L627.5 523 L627.9 518.01 L628.3 513 L628.7 508.36 L629.1 503.94 L629.5 499.3 L629.9 494.37 L630.3 489.3 L630.7 484.25 L631.1 479.09 L631.5 473.58 L631.9 467.63 L632.3 461.39 L632.7 455 L633.1 448.18 L633.5 441.19 L633.9 435 L634.3 429.8 L634.7 425.14 L635.1 420.97 L635.5 417.2 L635.9 413.78 L636.3 411 L636.7 408.68 L637.1 406.72 L637.5 405.5 L637.9 404.83 L638.3 404.28 L638.7 403.89 L639.1 403.71 L639.5 403.8 L639.9 404.22 L640.3 404.88 L640.7 405.72 L641.1 406.63 L641.5 407.62 L641.9 408.97 L642.3 410.61 L642.7 412.42 L643.1 414.29 L643.5 416.13 L643.9 418.13 L644.3 420.24 L644.7 422.35 L645.1 424.36 L645.5 426.19 L645.9 427.92 L646.3 429.57 L646.7 431.17 L647.1 432.74 L647.5 434.31 L647.9 435.9 L648.3 437.45 L648.7 438.97 L649.1 440.48 L649.5 442 L649.9 443.56 L650.3 445.18 L650.7 446.88 L651.1 448.64 L651.5 450.45 L651.9 452.3 L652.3 454.18 L652.7 456.07 L653.1 457.98 L653.5 459.89 L653.9 461.83 L654.3 463.79 L654.7 465.79 L655.1 467.82 L655.5 469.9 L655.9 472.04 L656.3 474.25 L656.7 476.5 L657.1 478.76 L657.5 481 L657.9 483.21 L658.3 485.4 L658.7 487.6 L659.1 489.83 L659.5 492.1 L659.9 494.43 L660.3 496.8 L660.7 499.21 L661.1 501.61 L661.5 504 L661.9 506.4 L662.3 508.84 L662.7 511.25 L663.1 513.61 L663.5 515.86 L663.9 518 L664.3 520.1 L664.7 522.16 L665.1 524.17 L665.5 526.14 L665.9 528.05 L666.3 529.9 L666.7 531.67 L667.1 533.38 L667.5 535.01 L667.9 536.63 L668.3 538.21 L668.7 539.76 L669.1 541.26 L669.5 542.69 L669.9 544.04 L670.3 545.29 L670.7 546.43 L671.1 547.44 L671.5 548.4 L671.9 549.32 L672.3 550.2 L672.7 551.02 L673.1 551.78 L673.5 552.48 L673.9 553.1 L674.3 553.65 L674.6 554" stroke="#ff00ff"/>
</g>
<path d="M410.5 369.3 H437.2" stroke="#0000ff" stroke-width="3" stroke-linecap="round" fill="none"/>
<text x="441" y="373.4" font-size="12" font-weight="bold">300K</text>
<path d="M410.5 384.3 H437.2" stroke="#00ffff" stroke-width="3" stroke-linecap="round" fill="none"/>
<text x="441" y="388.4" font-size="12" font-weight="bold">600K</text>
<path d="M410.5 399.3 H437.2" stroke="#ff00ff" stroke-width="3" stroke-linecap="round" fill="none"/>
<text x="441" y="403.4" font-size="12" font-weight="bold">900K</text>
<text x="582.1" y="383.5" font-size="17.6" font-weight="bold">PtTiPb</text>
<text x="391.5" y="618.4" font-size="19.6" font-weight="bold" text-anchor="middle">-2</text>
<text x="462.27" y="618.4" font-size="19.6" font-weight="bold" text-anchor="middle">-1</text>
<text x="533.05" y="618.4" font-size="19.6" font-weight="bold" text-anchor="middle">0</text>
<text x="603.83" y="618.4" font-size="19.6" font-weight="bold" text-anchor="middle">1</text>
<text x="674.6" y="618.4" font-size="19.6" font-weight="bold" text-anchor="middle">2</text>
<text x="381.8" y="354.6" font-size="19.6" font-weight="bold" text-anchor="end">12</text>
<text x="381.8" y="436.5" font-size="19.6" font-weight="bold" text-anchor="end">8</text>
<text x="381.8" y="518.4" font-size="19.6" font-weight="bold" text-anchor="end">4</text>
<text x="381.8" y="600.2" font-size="19.6" font-weight="bold" text-anchor="end">0</text>
<text x="523.6" y="634.9" font-size="22" text-anchor="end">&#956;&#8211;</text>
<text x="524" y="634.9" font-size="19.9" font-weight="bold">E<tspan font-size="12" dy="4.6">F</tspan><tspan dy="-4.6">(eV)</tspan></text>
</g>
<text x="1.5" y="28.6" font-size="23.5" font-weight="bold">(a)</text>
<text x="29.2" y="361.0" font-size="21.6" font-weight="bold">(b)</text>
<text transform="translate(32.0 182.3) rotate(-90) scale(1 1.068)" font-size="20.8" font-weight="bold">S(<tspan font-weight="normal" font-size="22.4">&#956;</tspan>V/K)</text>
<text transform="translate(58.7 558.3) rotate(-90) scale(1 1.033)" font-size="19.15" font-weight="bold">PF(10<tspan dy="-4.8">11</tspan><tspan dy="4.8">W/K</tspan><tspan dy="-4.8">2</tspan><tspan dy="4.8">ms)</tspan></text>
</svg>
</body></html>
